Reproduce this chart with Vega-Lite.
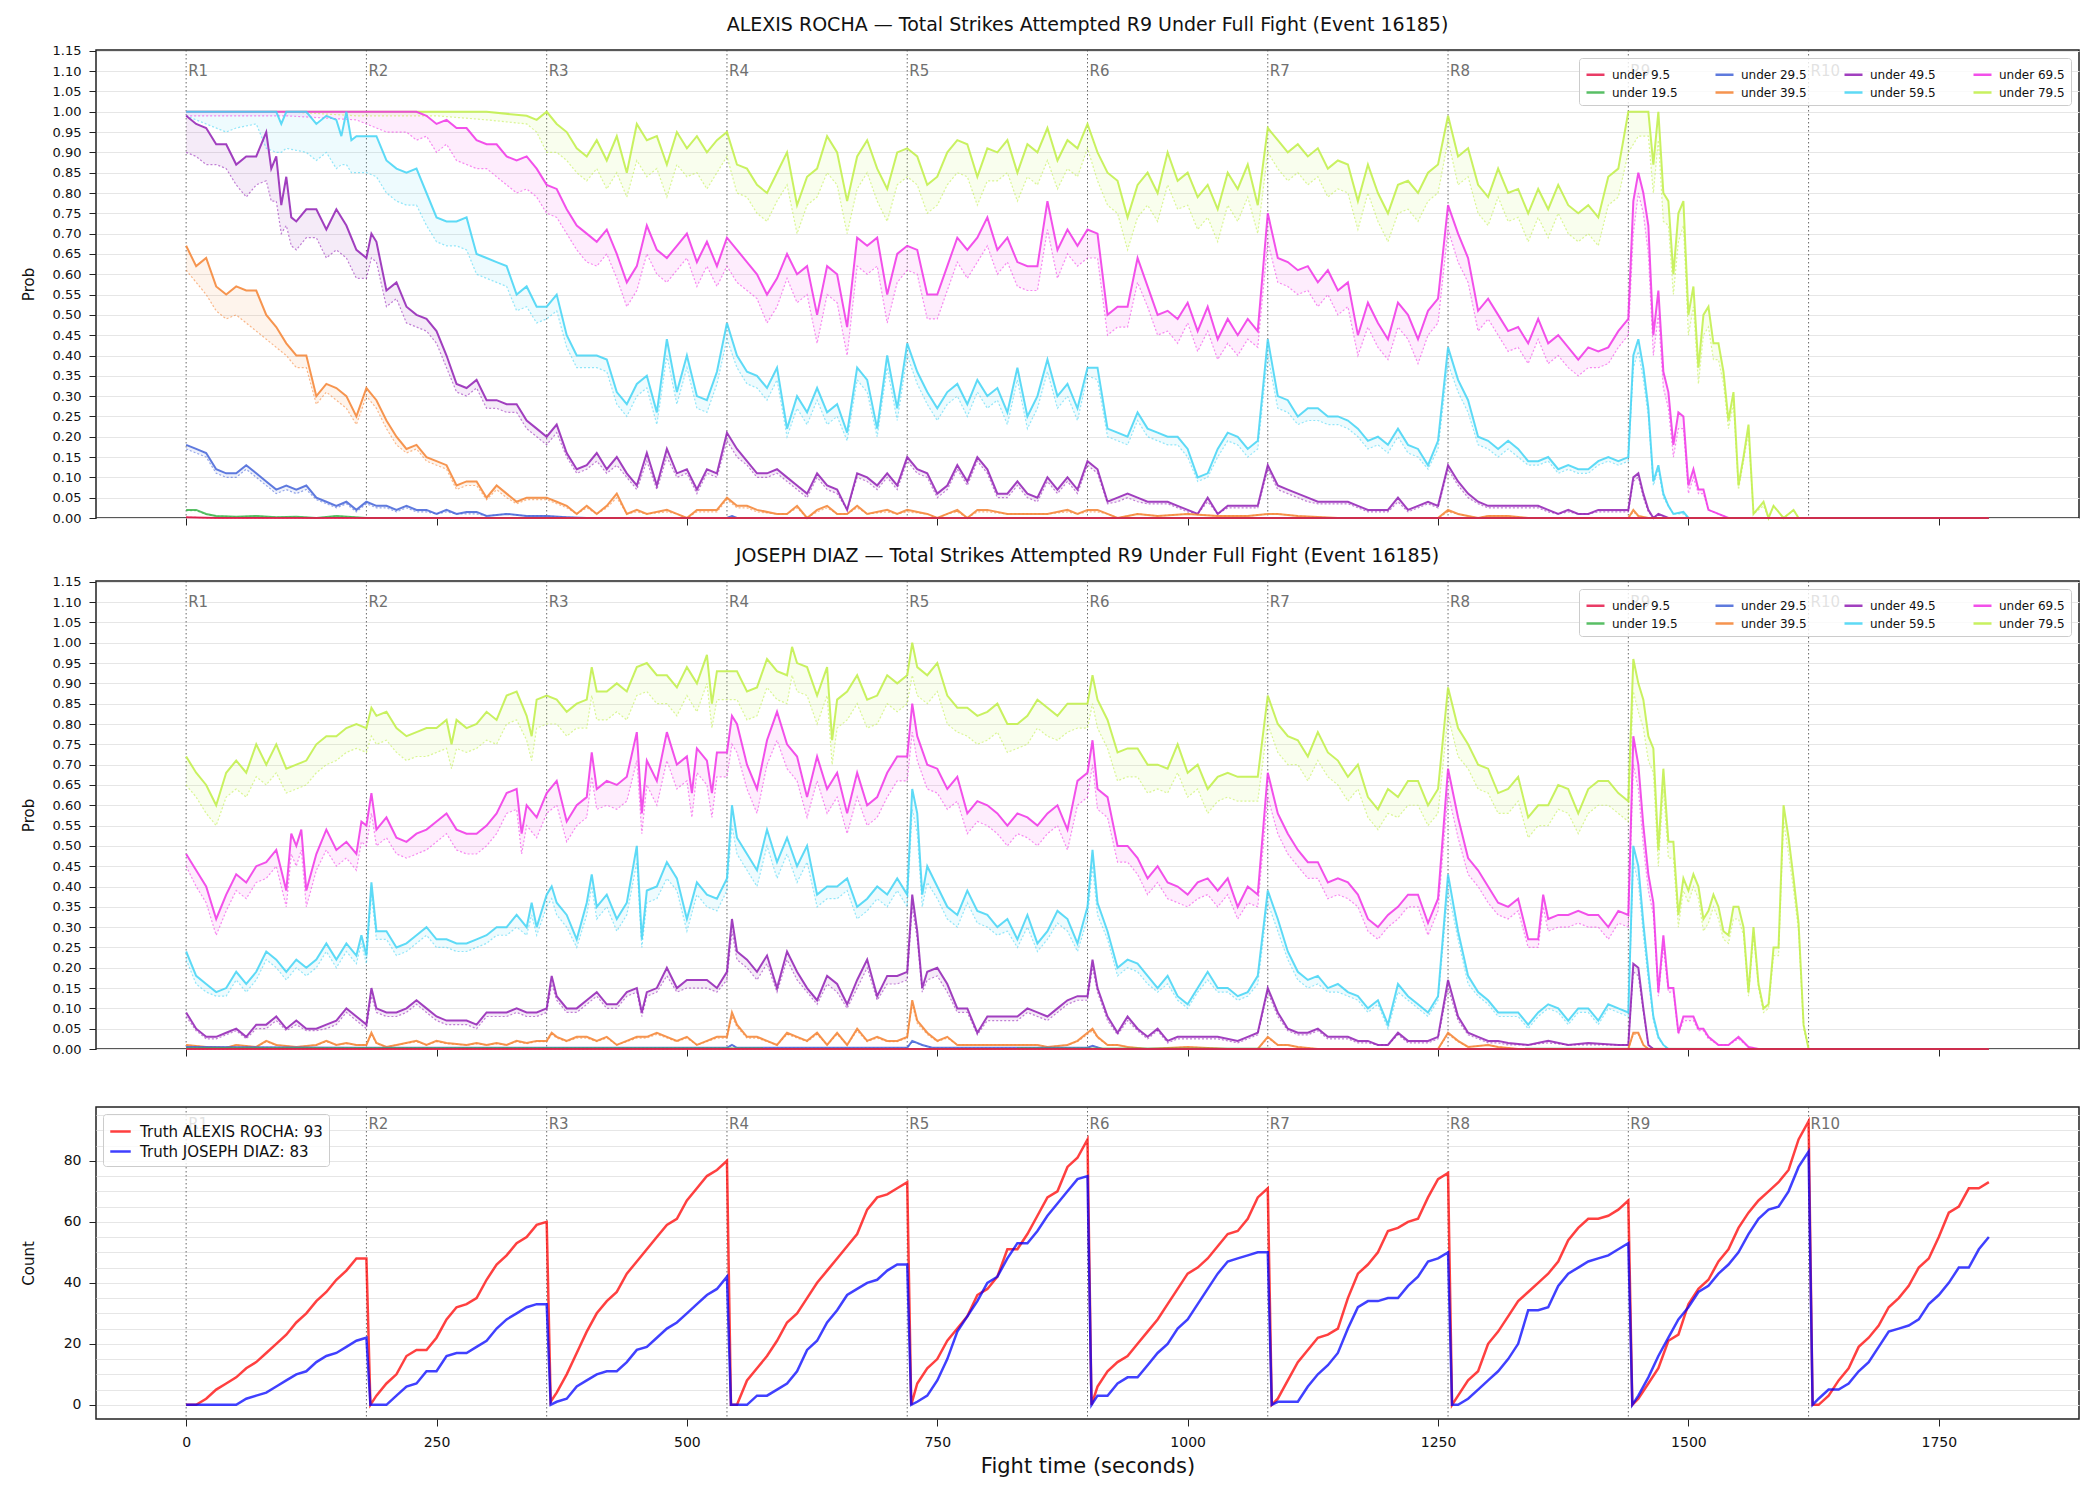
{
"$schema":"https://vega.github.io/schema/vega-lite/v6.json",
"background":"white",
"padding":{"left":20,"top":15,"right":10,"bottom":10},
"config":{
"font":"DejaVu Sans",
"view":{"stroke":"#222","strokeWidth":1.5},
"axis":{"domain":false,"labelColor":"#111","titleColor":"#111","titleFontWeight":"normal","tickColor":"#222","gridColor":"#e6e6e6","labelFont":"DejaVu Sans","titleFont":"DejaVu Sans","labelOverlap":false,"labelBound":false},
"title":{"fontSize":19,"fontWeight":"normal","color":"#111","offset":10,"font":"DejaVu Sans"},
"legend":{"labelFont":"DejaVu Sans"}
},
"datasets":{
"R":[{"t":0,"r":"R1"},{"t":180,"r":"R2"},{"t":360,"r":"R3"},{"t":540,"r":"R4"},{"t":720,"r":"R5"},{"t":900,"r":"R6"},{"t":1080,"r":"R7"},{"t":1260,"r":"R8"},{"t":1440,"r":"R9"},{"t":1620,"r":"R10"}],
"A":[
{"s":79.5,"t":0,"p":100,"l":100},{"s":79.5,"t":100,"p":100,"l":100},{"s":79.5,"t":170,"p":100,"l":99},{"s":79.5,"t":250,"p":100,"l":99},{"s":79.5,"t":300,"p":100,"l":98},{"s":79.5,"t":340,"p":99,"l":97},{"s":79.5,"t":350,"p":98,"l":95},{"s":79.5,"t":360,"p":100,"l":90},
{"s":79.5,"t":370,"p":97,"l":90},{"s":79.5,"t":380,"p":95,"l":88},{"s":79.5,"t":390,"p":91,"l":85},{"s":79.5,"t":400,"p":89,"l":83},{"s":79.5,"t":410,"p":93,"l":86},{"s":79.5,"t":420,"p":88,"l":81},{"s":79.5,"t":430,"p":94,"l":85},{"s":79.5,"t":440,"p":85,"l":79},{"s":79.5,"t":450,"p":97,"l":88},{"s":79.5,"t":460,"p":93,"l":84},{"s":79.5,"t":470,"p":94,"l":86},{"s":79.5,"t":480,"p":87,"l":79},{"s":79.5,"t":490,"p":95,"l":87},{"s":79.5,"t":500,"p":91,"l":84},{"s":79.5,"t":510,"p":94,"l":85},{"s":79.5,"t":520,"p":90,"l":81},{"s":79.5,"t":530,"p":93,"l":85},
{"s":79.5,"t":540,"p":95,"l":89},{"s":79.5,"t":550,"p":87,"l":80},{"s":79.5,"t":560,"p":86,"l":79},{"s":79.5,"t":570,"p":82,"l":75},{"s":79.5,"t":580,"p":80,"l":73},{"s":79.5,"t":590,"p":85,"l":78},{"s":79.5,"t":600,"p":90,"l":82},{"s":79.5,"t":610,"p":77,"l":70},{"s":79.5,"t":620,"p":84,"l":77},{"s":79.5,"t":630,"p":86,"l":79},{"s":79.5,"t":640,"p":94,"l":85},{"s":79.5,"t":650,"p":90,"l":82},{"s":79.5,"t":660,"p":78,"l":70},{"s":79.5,"t":670,"p":89,"l":81},{"s":79.5,"t":680,"p":93,"l":85},{"s":79.5,"t":690,"p":86,"l":78},{"s":79.5,"t":700,"p":81,"l":73},{"s":79.5,"t":710,"p":90,"l":82},
{"s":79.5,"t":720,"p":91,"l":84},{"s":79.5,"t":730,"p":89,"l":82},{"s":79.5,"t":740,"p":82,"l":75},{"s":79.5,"t":750,"p":84,"l":77},{"s":79.5,"t":760,"p":90,"l":82},{"s":79.5,"t":770,"p":93,"l":85},{"s":79.5,"t":780,"p":92,"l":84},{"s":79.5,"t":790,"p":84,"l":77},{"s":79.5,"t":800,"p":91,"l":83},{"s":79.5,"t":810,"p":90,"l":83},{"s":79.5,"t":820,"p":93,"l":85},{"s":79.5,"t":830,"p":85,"l":78},{"s":79.5,"t":840,"p":92,"l":84},{"s":79.5,"t":850,"p":90,"l":82},{"s":79.5,"t":860,"p":96,"l":88},{"s":79.5,"t":870,"p":88,"l":81},{"s":79.5,"t":880,"p":93,"l":86},{"s":79.5,"t":890,"p":91,"l":84},
{"s":79.5,"t":900,"p":97,"l":91},{"s":79.5,"t":910,"p":90,"l":83},{"s":79.5,"t":920,"p":85,"l":77},{"s":79.5,"t":930,"p":83,"l":75},{"s":79.5,"t":940,"p":74,"l":66},{"s":79.5,"t":950,"p":82,"l":74},{"s":79.5,"t":960,"p":85,"l":77},{"s":79.5,"t":970,"p":80,"l":73},{"s":79.5,"t":980,"p":90,"l":82},{"s":79.5,"t":990,"p":83,"l":76},{"s":79.5,"t":1000,"p":85,"l":77},{"s":79.5,"t":1010,"p":79,"l":71},{"s":79.5,"t":1020,"p":82,"l":74},{"s":79.5,"t":1030,"p":76,"l":68},{"s":79.5,"t":1040,"p":85,"l":77},{"s":79.5,"t":1050,"p":81,"l":73},{"s":79.5,"t":1060,"p":87,"l":79},{"s":79.5,"t":1070,"p":77,"l":70},
{"s":79.5,"t":1080,"p":96,"l":90},{"s":79.5,"t":1090,"p":93,"l":86},{"s":79.5,"t":1100,"p":90,"l":83},{"s":79.5,"t":1110,"p":92,"l":85},{"s":79.5,"t":1120,"p":89,"l":82},{"s":79.5,"t":1130,"p":91,"l":84},{"s":79.5,"t":1140,"p":86,"l":79},{"s":79.5,"t":1150,"p":88,"l":81},{"s":79.5,"t":1160,"p":87,"l":80},{"s":79.5,"t":1170,"p":78,"l":71},{"s":79.5,"t":1180,"p":87,"l":80},{"s":79.5,"t":1190,"p":80,"l":73},{"s":79.5,"t":1200,"p":75,"l":68},{"s":79.5,"t":1210,"p":82,"l":75},{"s":79.5,"t":1220,"p":83,"l":76},{"s":79.5,"t":1230,"p":80,"l":73},{"s":79.5,"t":1240,"p":85,"l":78},{"s":79.5,"t":1250,"p":87,"l":80},
{"s":79.5,"t":1260,"p":99,"l":93},{"s":79.5,"t":1270,"p":89,"l":82},{"s":79.5,"t":1280,"p":91,"l":84},{"s":79.5,"t":1290,"p":82,"l":75},{"s":79.5,"t":1300,"p":79,"l":72},{"s":79.5,"t":1310,"p":86,"l":79},{"s":79.5,"t":1320,"p":80,"l":73},{"s":79.5,"t":1330,"p":81,"l":74},{"s":79.5,"t":1340,"p":75,"l":68},{"s":79.5,"t":1350,"p":81,"l":74},{"s":79.5,"t":1360,"p":76,"l":69},{"s":79.5,"t":1370,"p":82,"l":75},{"s":79.5,"t":1380,"p":77,"l":70},{"s":79.5,"t":1390,"p":75,"l":68},{"s":79.5,"t":1400,"p":77,"l":70},{"s":79.5,"t":1410,"p":74,"l":67},{"s":79.5,"t":1420,"p":84,"l":77},{"s":79.5,"t":1430,"p":86,"l":79},
{"s":79.5,"t":1440,"p":100,"l":90},{"s":79.5,"t":1450,"p":100,"l":94},{"s":79.5,"t":1460,"p":100,"l":94},{"s":79.5,"t":1465,"p":87,"l":80},{"s":79.5,"t":1470,"p":100,"l":93},{"s":79.5,"t":1475,"p":80,"l":73},{"s":79.5,"t":1480,"p":78,"l":72},{"s":79.5,"t":1485,"p":60,"l":55},{"s":79.5,"t":1490,"p":75,"l":68},{"s":79.5,"t":1495,"p":78,"l":72},{"s":79.5,"t":1500,"p":50,"l":45},{"s":79.5,"t":1505,"p":57,"l":52},{"s":79.5,"t":1510,"p":37,"l":33},{"s":79.5,"t":1515,"p":50,"l":45},{"s":79.5,"t":1520,"p":52,"l":47},{"s":79.5,"t":1525,"p":43,"l":39},{"s":79.5,"t":1530,"p":43,"l":39},{"s":79.5,"t":1535,"p":36,"l":33},{"s":79.5,"t":1540,"p":24,"l":22},{"s":79.5,"t":1545,"p":31,"l":28},{"s":79.5,"t":1550,"p":8,"l":7},{"s":79.5,"t":1555,"p":15,"l":14},{"s":79.5,"t":1560,"p":23,"l":21},{"s":79.5,"t":1565,"p":1,"l":1},{"s":79.5,"t":1575,"p":4,"l":3},{"s":79.5,"t":1580,"p":0,"l":0},{"s":79.5,"t":1585,"p":3,"l":3},{"s":79.5,"t":1595,"p":0,"l":0},{"s":79.5,"t":1605,"p":2,"l":2},{"s":79.5,"t":1610,"p":0,"l":0},{"s":79.5,"t":1800,"p":0,"l":0},
{"s":69.5,"t":0,"p":100,"l":99},{"s":69.5,"t":100,"p":100,"l":99},{"s":69.5,"t":170,"p":100,"l":98},{"s":69.5,"t":180,"p":100,"l":97},{"s":69.5,"t":200,"p":100,"l":95},{"s":69.5,"t":220,"p":100,"l":95},{"s":69.5,"t":230,"p":100,"l":93},{"s":69.5,"t":240,"p":99,"l":94},{"s":69.5,"t":250,"p":97,"l":90},{"s":69.5,"t":260,"p":98,"l":92},{"s":69.5,"t":270,"p":96,"l":88},{"s":69.5,"t":280,"p":96,"l":87},{"s":69.5,"t":290,"p":93,"l":86},{"s":69.5,"t":300,"p":92,"l":86},{"s":69.5,"t":310,"p":92,"l":84},{"s":69.5,"t":320,"p":89,"l":82},{"s":69.5,"t":330,"p":88,"l":80},{"s":69.5,"t":340,"p":89,"l":81},{"s":69.5,"t":350,"p":86,"l":79},
{"s":69.5,"t":360,"p":82,"l":75},{"s":69.5,"t":370,"p":81,"l":74},{"s":69.5,"t":380,"p":76,"l":70},{"s":69.5,"t":390,"p":72,"l":66},{"s":69.5,"t":400,"p":70,"l":63},{"s":69.5,"t":410,"p":68,"l":62},{"s":69.5,"t":420,"p":71,"l":65},{"s":69.5,"t":430,"p":65,"l":59},{"s":69.5,"t":440,"p":58,"l":52},{"s":69.5,"t":450,"p":62,"l":56},{"s":69.5,"t":460,"p":72,"l":65},{"s":69.5,"t":470,"p":66,"l":60},{"s":69.5,"t":480,"p":64,"l":58},{"s":69.5,"t":490,"p":67,"l":61},{"s":69.5,"t":500,"p":70,"l":64},{"s":69.5,"t":510,"p":63,"l":57},{"s":69.5,"t":520,"p":68,"l":62},{"s":69.5,"t":530,"p":62,"l":57},
{"s":69.5,"t":540,"p":69,"l":62},{"s":69.5,"t":550,"p":66,"l":58},{"s":69.5,"t":560,"p":63,"l":56},{"s":69.5,"t":570,"p":60,"l":54},{"s":69.5,"t":580,"p":55,"l":48},{"s":69.5,"t":590,"p":59,"l":52},{"s":69.5,"t":600,"p":65,"l":59},{"s":69.5,"t":610,"p":60,"l":53},{"s":69.5,"t":620,"p":62,"l":55},{"s":69.5,"t":630,"p":50,"l":43},{"s":69.5,"t":640,"p":62,"l":55},{"s":69.5,"t":650,"p":60,"l":53},{"s":69.5,"t":660,"p":47,"l":40},{"s":69.5,"t":670,"p":69,"l":62},{"s":69.5,"t":680,"p":67,"l":60},{"s":69.5,"t":690,"p":69,"l":62},{"s":69.5,"t":700,"p":55,"l":48},{"s":69.5,"t":710,"p":65,"l":58},
{"s":69.5,"t":720,"p":67,"l":61},{"s":69.5,"t":730,"p":66,"l":60},{"s":69.5,"t":740,"p":55,"l":49},{"s":69.5,"t":750,"p":55,"l":49},{"s":69.5,"t":760,"p":62,"l":56},{"s":69.5,"t":770,"p":69,"l":63},{"s":69.5,"t":780,"p":66,"l":59},{"s":69.5,"t":790,"p":69,"l":63},{"s":69.5,"t":800,"p":74,"l":67},{"s":69.5,"t":810,"p":66,"l":60},{"s":69.5,"t":820,"p":69,"l":63},{"s":69.5,"t":830,"p":63,"l":57},{"s":69.5,"t":840,"p":62,"l":56},{"s":69.5,"t":850,"p":62,"l":56},{"s":69.5,"t":860,"p":78,"l":71},{"s":69.5,"t":870,"p":66,"l":59},{"s":69.5,"t":880,"p":71,"l":65},{"s":69.5,"t":890,"p":67,"l":62},
{"s":69.5,"t":900,"p":71,"l":64},{"s":69.5,"t":910,"p":70,"l":64},{"s":69.5,"t":920,"p":50,"l":45},{"s":69.5,"t":930,"p":52,"l":47},{"s":69.5,"t":940,"p":52,"l":47},{"s":69.5,"t":950,"p":64,"l":58},{"s":69.5,"t":960,"p":57,"l":52},{"s":69.5,"t":970,"p":50,"l":45},{"s":69.5,"t":980,"p":51,"l":46},{"s":69.5,"t":990,"p":49,"l":43},{"s":69.5,"t":1000,"p":53,"l":48},{"s":69.5,"t":1010,"p":46,"l":41},{"s":69.5,"t":1020,"p":52,"l":46},{"s":69.5,"t":1030,"p":44,"l":39},{"s":69.5,"t":1040,"p":49,"l":43},{"s":69.5,"t":1050,"p":45,"l":40},{"s":69.5,"t":1060,"p":49,"l":44},{"s":69.5,"t":1070,"p":46,"l":42},
{"s":69.5,"t":1080,"p":75,"l":68},{"s":69.5,"t":1090,"p":64,"l":58},{"s":69.5,"t":1100,"p":63,"l":57},{"s":69.5,"t":1110,"p":61,"l":55},{"s":69.5,"t":1120,"p":62,"l":56},{"s":69.5,"t":1130,"p":58,"l":52},{"s":69.5,"t":1140,"p":61,"l":55},{"s":69.5,"t":1150,"p":56,"l":50},{"s":69.5,"t":1160,"p":58,"l":52},{"s":69.5,"t":1170,"p":45,"l":40},{"s":69.5,"t":1180,"p":53,"l":47},{"s":69.5,"t":1190,"p":48,"l":42},{"s":69.5,"t":1200,"p":44,"l":39},{"s":69.5,"t":1210,"p":53,"l":47},{"s":69.5,"t":1220,"p":50,"l":44},{"s":69.5,"t":1230,"p":44,"l":38},{"s":69.5,"t":1240,"p":51,"l":45},{"s":69.5,"t":1250,"p":54,"l":48},
{"s":69.5,"t":1260,"p":77,"l":71},{"s":69.5,"t":1270,"p":70,"l":63},{"s":69.5,"t":1280,"p":64,"l":58},{"s":69.5,"t":1290,"p":51,"l":46},{"s":69.5,"t":1300,"p":54,"l":49},{"s":69.5,"t":1310,"p":50,"l":45},{"s":69.5,"t":1320,"p":46,"l":41},{"s":69.5,"t":1330,"p":47,"l":42},{"s":69.5,"t":1340,"p":43,"l":38},{"s":69.5,"t":1350,"p":49,"l":44},{"s":69.5,"t":1360,"p":43,"l":38},{"s":69.5,"t":1370,"p":45,"l":40},{"s":69.5,"t":1380,"p":42,"l":37},{"s":69.5,"t":1390,"p":39,"l":35},{"s":69.5,"t":1400,"p":42,"l":37},{"s":69.5,"t":1410,"p":41,"l":37},{"s":69.5,"t":1420,"p":42,"l":38},{"s":69.5,"t":1430,"p":46,"l":42},
{"s":69.5,"t":1440,"p":49,"l":45},{"s":69.5,"t":1445,"p":78,"l":70},{"s":69.5,"t":1450,"p":85,"l":80},{"s":69.5,"t":1455,"p":80,"l":75},{"s":69.5,"t":1460,"p":72,"l":65},{"s":69.5,"t":1465,"p":45,"l":40},{"s":69.5,"t":1470,"p":56,"l":50},{"s":69.5,"t":1475,"p":36,"l":32},{"s":69.5,"t":1480,"p":31,"l":27},{"s":69.5,"t":1485,"p":18,"l":15},{"s":69.5,"t":1490,"p":26,"l":22},{"s":69.5,"t":1495,"p":25,"l":22},{"s":69.5,"t":1500,"p":8,"l":6},{"s":69.5,"t":1505,"p":12,"l":10},{"s":69.5,"t":1510,"p":7,"l":6},{"s":69.5,"t":1515,"p":7,"l":6},{"s":69.5,"t":1520,"p":2,"l":2},{"s":69.5,"t":1530,"p":1,"l":1},{"s":69.5,"t":1540,"p":0,"l":0},{"s":69.5,"t":1800,"p":0,"l":0},
{"s":59.5,"t":0,"p":100,"l":99},{"s":59.5,"t":20,"p":100,"l":97},{"s":59.5,"t":40,"p":100,"l":95},{"s":59.5,"t":50,"p":100,"l":96},{"s":59.5,"t":70,"p":100,"l":97},{"s":59.5,"t":80,"p":100,"l":91},{"s":59.5,"t":90,"p":100,"l":90},{"s":59.5,"t":95,"p":97,"l":90},{"s":59.5,"t":100,"p":100,"l":91},{"s":59.5,"t":120,"p":100,"l":90},{"s":59.5,"t":130,"p":97,"l":88},{"s":59.5,"t":140,"p":99,"l":90},{"s":59.5,"t":150,"p":98,"l":86},{"s":59.5,"t":155,"p":94,"l":87},{"s":59.5,"t":160,"p":100,"l":87},{"s":59.5,"t":165,"p":93,"l":85},{"s":59.5,"t":170,"p":94,"l":85},
{"s":59.5,"t":180,"p":94,"l":85},{"s":59.5,"t":190,"p":94,"l":84},{"s":59.5,"t":200,"p":88,"l":80},{"s":59.5,"t":210,"p":86,"l":78},{"s":59.5,"t":220,"p":85,"l":77},{"s":59.5,"t":230,"p":86,"l":77},{"s":59.5,"t":240,"p":80,"l":72},{"s":59.5,"t":250,"p":74,"l":68},{"s":59.5,"t":260,"p":73,"l":67},{"s":59.5,"t":270,"p":73,"l":67},{"s":59.5,"t":280,"p":74,"l":66},{"s":59.5,"t":290,"p":65,"l":60},{"s":59.5,"t":300,"p":64,"l":59},{"s":59.5,"t":310,"p":63,"l":58},{"s":59.5,"t":320,"p":62,"l":57},{"s":59.5,"t":330,"p":55,"l":51},{"s":59.5,"t":340,"p":57,"l":52},{"s":59.5,"t":350,"p":52,"l":48},
{"s":59.5,"t":360,"p":52,"l":49},{"s":59.5,"t":370,"p":55,"l":51},{"s":59.5,"t":380,"p":45,"l":42},{"s":59.5,"t":390,"p":40,"l":37},{"s":59.5,"t":400,"p":40,"l":37},{"s":59.5,"t":410,"p":40,"l":37},{"s":59.5,"t":420,"p":39,"l":36},{"s":59.5,"t":430,"p":31,"l":28},{"s":59.5,"t":440,"p":28,"l":25},{"s":59.5,"t":450,"p":33,"l":30},{"s":59.5,"t":460,"p":35,"l":32},{"s":59.5,"t":470,"p":26,"l":23},{"s":59.5,"t":480,"p":44,"l":40},{"s":59.5,"t":490,"p":31,"l":28},{"s":59.5,"t":500,"p":40,"l":37},{"s":59.5,"t":510,"p":30,"l":27},{"s":59.5,"t":520,"p":29,"l":26},{"s":59.5,"t":530,"p":36,"l":33},
{"s":59.5,"t":540,"p":48,"l":44},{"s":59.5,"t":550,"p":40,"l":37},{"s":59.5,"t":560,"p":36,"l":33},{"s":59.5,"t":570,"p":35,"l":32},{"s":59.5,"t":580,"p":32,"l":29},{"s":59.5,"t":590,"p":37,"l":34},{"s":59.5,"t":600,"p":22,"l":20},{"s":59.5,"t":610,"p":30,"l":27},{"s":59.5,"t":620,"p":26,"l":23},{"s":59.5,"t":630,"p":32,"l":29},{"s":59.5,"t":640,"p":26,"l":23},{"s":59.5,"t":650,"p":28,"l":25},{"s":59.5,"t":660,"p":21,"l":19},{"s":59.5,"t":670,"p":37,"l":34},{"s":59.5,"t":680,"p":34,"l":31},{"s":59.5,"t":690,"p":22,"l":20},{"s":59.5,"t":700,"p":40,"l":37},{"s":59.5,"t":710,"p":27,"l":24},
{"s":59.5,"t":720,"p":43,"l":40},{"s":59.5,"t":730,"p":36,"l":33},{"s":59.5,"t":740,"p":31,"l":28},{"s":59.5,"t":750,"p":27,"l":24},{"s":59.5,"t":760,"p":31,"l":28},{"s":59.5,"t":770,"p":33,"l":30},{"s":59.5,"t":780,"p":28,"l":25},{"s":59.5,"t":790,"p":34,"l":31},{"s":59.5,"t":800,"p":30,"l":27},{"s":59.5,"t":810,"p":32,"l":29},{"s":59.5,"t":820,"p":26,"l":23},{"s":59.5,"t":830,"p":37,"l":34},{"s":59.5,"t":840,"p":25,"l":22},{"s":59.5,"t":850,"p":30,"l":27},{"s":59.5,"t":860,"p":39,"l":36},{"s":59.5,"t":870,"p":30,"l":27},{"s":59.5,"t":880,"p":33,"l":30},{"s":59.5,"t":890,"p":27,"l":24},
{"s":59.5,"t":900,"p":37,"l":35},{"s":59.5,"t":910,"p":37,"l":34},{"s":59.5,"t":920,"p":22,"l":20},{"s":59.5,"t":930,"p":21,"l":19},{"s":59.5,"t":940,"p":20,"l":18},{"s":59.5,"t":950,"p":26,"l":24},{"s":59.5,"t":960,"p":22,"l":20},{"s":59.5,"t":970,"p":21,"l":19},{"s":59.5,"t":980,"p":20,"l":18},{"s":59.5,"t":990,"p":20,"l":18},{"s":59.5,"t":1000,"p":17,"l":15},{"s":59.5,"t":1010,"p":10,"l":9},{"s":59.5,"t":1020,"p":11,"l":10},{"s":59.5,"t":1030,"p":17,"l":15},{"s":59.5,"t":1040,"p":21,"l":19},{"s":59.5,"t":1050,"p":20,"l":18},{"s":59.5,"t":1060,"p":17,"l":15},{"s":59.5,"t":1070,"p":19,"l":17},
{"s":59.5,"t":1080,"p":44,"l":40},{"s":59.5,"t":1090,"p":30,"l":27},{"s":59.5,"t":1100,"p":29,"l":26},{"s":59.5,"t":1110,"p":25,"l":23},{"s":59.5,"t":1120,"p":27,"l":24},{"s":59.5,"t":1130,"p":27,"l":24},{"s":59.5,"t":1140,"p":25,"l":23},{"s":59.5,"t":1150,"p":25,"l":23},{"s":59.5,"t":1160,"p":24,"l":22},{"s":59.5,"t":1170,"p":22,"l":20},{"s":59.5,"t":1180,"p":19,"l":17},{"s":59.5,"t":1190,"p":20,"l":18},{"s":59.5,"t":1200,"p":18,"l":16},{"s":59.5,"t":1210,"p":22,"l":20},{"s":59.5,"t":1220,"p":18,"l":16},{"s":59.5,"t":1230,"p":17,"l":15},{"s":59.5,"t":1240,"p":13,"l":12},{"s":59.5,"t":1250,"p":19,"l":17},
{"s":59.5,"t":1260,"p":42,"l":38},{"s":59.5,"t":1270,"p":34,"l":31},{"s":59.5,"t":1280,"p":29,"l":26},{"s":59.5,"t":1290,"p":20,"l":18},{"s":59.5,"t":1300,"p":19,"l":17},{"s":59.5,"t":1310,"p":17,"l":15},{"s":59.5,"t":1320,"p":19,"l":17},{"s":59.5,"t":1330,"p":17,"l":15},{"s":59.5,"t":1340,"p":14,"l":13},{"s":59.5,"t":1350,"p":14,"l":13},{"s":59.5,"t":1360,"p":15,"l":14},{"s":59.5,"t":1370,"p":12,"l":11},{"s":59.5,"t":1380,"p":13,"l":12},{"s":59.5,"t":1390,"p":12,"l":11},{"s":59.5,"t":1400,"p":12,"l":11},{"s":59.5,"t":1410,"p":14,"l":13},{"s":59.5,"t":1420,"p":15,"l":14},{"s":59.5,"t":1430,"p":14,"l":13},
{"s":59.5,"t":1440,"p":15,"l":14},{"s":59.5,"t":1445,"p":40,"l":37},{"s":59.5,"t":1450,"p":44,"l":41},{"s":59.5,"t":1455,"p":37,"l":34},{"s":59.5,"t":1460,"p":27,"l":25},{"s":59.5,"t":1465,"p":9,"l":8},{"s":59.5,"t":1470,"p":13,"l":12},{"s":59.5,"t":1475,"p":6,"l":5},{"s":59.5,"t":1480,"p":3,"l":3},{"s":59.5,"t":1485,"p":1,"l":1},{"s":59.5,"t":1495,"p":1.5,"l":1},{"s":59.5,"t":1500,"p":0,"l":0},{"s":59.5,"t":1800,"p":0,"l":0},
{"s":49.5,"t":0,"p":99,"l":90},{"s":49.5,"t":10,"p":97,"l":89},{"s":49.5,"t":20,"p":96,"l":87},{"s":49.5,"t":30,"p":92,"l":87},{"s":49.5,"t":40,"p":92,"l":86},{"s":49.5,"t":50,"p":87,"l":82},{"s":49.5,"t":60,"p":89,"l":79},{"s":49.5,"t":70,"p":89,"l":82},{"s":49.5,"t":80,"p":95,"l":83},{"s":49.5,"t":85,"p":86,"l":78},{"s":49.5,"t":90,"p":89,"l":78},{"s":49.5,"t":95,"p":77,"l":70},{"s":49.5,"t":100,"p":84,"l":72},{"s":49.5,"t":105,"p":74,"l":67},{"s":49.5,"t":110,"p":73,"l":66},{"s":49.5,"t":120,"p":76,"l":69},{"s":49.5,"t":130,"p":76,"l":69},{"s":49.5,"t":140,"p":71,"l":64},{"s":49.5,"t":150,"p":76,"l":66},{"s":49.5,"t":160,"p":72,"l":64},{"s":49.5,"t":170,"p":66,"l":59},
{"s":49.5,"t":180,"p":64,"l":59},{"s":49.5,"t":185,"p":70,"l":64},{"s":49.5,"t":190,"p":68,"l":63},{"s":49.5,"t":200,"p":56,"l":52},{"s":49.5,"t":210,"p":58,"l":54},{"s":49.5,"t":220,"p":52,"l":48},{"s":49.5,"t":230,"p":50,"l":47},{"s":49.5,"t":240,"p":49,"l":46},{"s":49.5,"t":250,"p":46,"l":43},{"s":49.5,"t":260,"p":40,"l":37},{"s":49.5,"t":270,"p":33,"l":31},{"s":49.5,"t":280,"p":32,"l":30},{"s":49.5,"t":290,"p":34,"l":32},{"s":49.5,"t":300,"p":29,"l":27},{"s":49.5,"t":310,"p":29,"l":27},{"s":49.5,"t":320,"p":28,"l":26},{"s":49.5,"t":330,"p":28,"l":26},{"s":49.5,"t":340,"p":24,"l":22},{"s":49.5,"t":350,"p":22,"l":20},
{"s":49.5,"t":360,"p":20,"l":18},{"s":49.5,"t":370,"p":23,"l":21},{"s":49.5,"t":380,"p":16,"l":15},{"s":49.5,"t":390,"p":12,"l":11},{"s":49.5,"t":400,"p":13,"l":12},{"s":49.5,"t":410,"p":16,"l":14},{"s":49.5,"t":420,"p":12,"l":11},{"s":49.5,"t":430,"p":15,"l":13},{"s":49.5,"t":440,"p":11,"l":10},{"s":49.5,"t":450,"p":8,"l":7},{"s":49.5,"t":460,"p":16,"l":14},{"s":49.5,"t":470,"p":8,"l":7},{"s":49.5,"t":480,"p":17,"l":15},{"s":49.5,"t":490,"p":11,"l":10},{"s":49.5,"t":500,"p":12,"l":11},{"s":49.5,"t":510,"p":7,"l":6},{"s":49.5,"t":520,"p":12,"l":11},{"s":49.5,"t":530,"p":11,"l":10},
{"s":49.5,"t":540,"p":21,"l":19},{"s":49.5,"t":550,"p":17,"l":15},{"s":49.5,"t":560,"p":14,"l":13},{"s":49.5,"t":570,"p":11,"l":10},{"s":49.5,"t":580,"p":11,"l":10},{"s":49.5,"t":590,"p":12,"l":11},{"s":49.5,"t":600,"p":10,"l":9},{"s":49.5,"t":610,"p":8,"l":7},{"s":49.5,"t":620,"p":6,"l":5},{"s":49.5,"t":630,"p":11,"l":10},{"s":49.5,"t":640,"p":8,"l":7},{"s":49.5,"t":650,"p":7,"l":6},{"s":49.5,"t":660,"p":2,"l":2},{"s":49.5,"t":670,"p":11,"l":10},{"s":49.5,"t":680,"p":10,"l":9},{"s":49.5,"t":690,"p":8,"l":7},{"s":49.5,"t":700,"p":11,"l":10},{"s":49.5,"t":710,"p":8,"l":7},
{"s":49.5,"t":720,"p":15,"l":14},{"s":49.5,"t":730,"p":12,"l":11},{"s":49.5,"t":740,"p":11,"l":10},{"s":49.5,"t":750,"p":6,"l":5},{"s":49.5,"t":760,"p":8,"l":7},{"s":49.5,"t":770,"p":13,"l":12},{"s":49.5,"t":780,"p":9,"l":8},{"s":49.5,"t":790,"p":15,"l":14},{"s":49.5,"t":800,"p":12,"l":11},{"s":49.5,"t":810,"p":6,"l":5},{"s":49.5,"t":820,"p":6,"l":5},{"s":49.5,"t":830,"p":9,"l":8},{"s":49.5,"t":840,"p":6,"l":5},{"s":49.5,"t":850,"p":5,"l":4},{"s":49.5,"t":860,"p":10,"l":9},{"s":49.5,"t":870,"p":7,"l":6},{"s":49.5,"t":880,"p":10,"l":9},{"s":49.5,"t":890,"p":7,"l":6},
{"s":49.5,"t":900,"p":14,"l":13},{"s":49.5,"t":910,"p":12,"l":11},{"s":49.5,"t":920,"p":4,"l":3.5},{"s":49.5,"t":930,"p":5,"l":4},{"s":49.5,"t":940,"p":6,"l":5},{"s":49.5,"t":950,"p":5,"l":4},{"s":49.5,"t":960,"p":4,"l":3.5},{"s":49.5,"t":970,"p":4,"l":3.5},{"s":49.5,"t":980,"p":4,"l":3.5},{"s":49.5,"t":990,"p":3,"l":2.5},{"s":49.5,"t":1000,"p":2,"l":1.5},{"s":49.5,"t":1010,"p":1,"l":1},{"s":49.5,"t":1020,"p":5,"l":4},{"s":49.5,"t":1030,"p":1,"l":1},{"s":49.5,"t":1040,"p":3,"l":2.5},{"s":49.5,"t":1050,"p":3,"l":2.5},{"s":49.5,"t":1060,"p":3,"l":2.5},{"s":49.5,"t":1070,"p":3,"l":2.5},
{"s":49.5,"t":1080,"p":13,"l":12},{"s":49.5,"t":1090,"p":8,"l":7},{"s":49.5,"t":1100,"p":7,"l":6},{"s":49.5,"t":1110,"p":6,"l":5},{"s":49.5,"t":1120,"p":5,"l":4},{"s":49.5,"t":1130,"p":4,"l":3.5},{"s":49.5,"t":1140,"p":4,"l":3.5},{"s":49.5,"t":1150,"p":4,"l":3.5},{"s":49.5,"t":1160,"p":4,"l":3.5},{"s":49.5,"t":1170,"p":3,"l":2.5},{"s":49.5,"t":1180,"p":2,"l":1.5},{"s":49.5,"t":1190,"p":2,"l":1.5},{"s":49.5,"t":1200,"p":2,"l":1.5},{"s":49.5,"t":1210,"p":5,"l":4},{"s":49.5,"t":1220,"p":2,"l":1.5},{"s":49.5,"t":1230,"p":3,"l":2.5},{"s":49.5,"t":1240,"p":4,"l":3.5},{"s":49.5,"t":1250,"p":3,"l":2.5},
{"s":49.5,"t":1260,"p":13,"l":12},{"s":49.5,"t":1270,"p":9,"l":8},{"s":49.5,"t":1280,"p":6,"l":5},{"s":49.5,"t":1290,"p":4,"l":3.5},{"s":49.5,"t":1300,"p":3,"l":2.5},{"s":49.5,"t":1320,"p":3,"l":2.5},{"s":49.5,"t":1340,"p":3,"l":2.5},{"s":49.5,"t":1350,"p":3,"l":2.5},{"s":49.5,"t":1360,"p":2,"l":1.5},{"s":49.5,"t":1370,"p":1,"l":1},{"s":49.5,"t":1380,"p":2,"l":1.5},{"s":49.5,"t":1390,"p":1,"l":1},{"s":49.5,"t":1400,"p":1,"l":1},{"s":49.5,"t":1410,"p":2,"l":1.5},{"s":49.5,"t":1430,"p":2,"l":1.5},
{"s":49.5,"t":1440,"p":2,"l":1.5},{"s":49.5,"t":1445,"p":10,"l":9},{"s":49.5,"t":1450,"p":11,"l":10},{"s":49.5,"t":1455,"p":6,"l":5},{"s":49.5,"t":1460,"p":2,"l":1.5},{"s":49.5,"t":1465,"p":0,"l":0},{"s":49.5,"t":1470,"p":1,"l":1},{"s":49.5,"t":1480,"p":0,"l":0},{"s":49.5,"t":1800,"p":0,"l":0},
{"s":39.5,"t":0,"p":67,"l":61},{"s":39.5,"t":10,"p":62,"l":58},{"s":39.5,"t":20,"p":64,"l":55},{"s":39.5,"t":30,"p":57,"l":51},{"s":39.5,"t":40,"p":55,"l":49},{"s":39.5,"t":50,"p":57,"l":50},{"s":39.5,"t":60,"p":56,"l":48},{"s":39.5,"t":70,"p":56,"l":46},{"s":39.5,"t":80,"p":50,"l":44},{"s":39.5,"t":90,"p":47,"l":42},{"s":39.5,"t":100,"p":43,"l":40},{"s":39.5,"t":110,"p":40,"l":37},{"s":39.5,"t":120,"p":40,"l":37},{"s":39.5,"t":130,"p":30,"l":28},{"s":39.5,"t":140,"p":33,"l":31},{"s":39.5,"t":150,"p":32,"l":29},{"s":39.5,"t":160,"p":30,"l":27},{"s":39.5,"t":170,"p":25,"l":23},
{"s":39.5,"t":180,"p":32,"l":30},{"s":39.5,"t":190,"p":29,"l":27},{"s":39.5,"t":200,"p":24,"l":22},{"s":39.5,"t":210,"p":20,"l":18},{"s":39.5,"t":220,"p":17,"l":16},{"s":39.5,"t":230,"p":18,"l":17},{"s":39.5,"t":240,"p":15,"l":14},{"s":39.5,"t":250,"p":14,"l":13},{"s":39.5,"t":260,"p":13,"l":12},{"s":39.5,"t":270,"p":8,"l":7},{"s":39.5,"t":280,"p":9,"l":8},{"s":39.5,"t":290,"p":9,"l":8},{"s":39.5,"t":300,"p":5,"l":4.5},{"s":39.5,"t":310,"p":8,"l":7},{"s":39.5,"t":320,"p":6,"l":5},{"s":39.5,"t":330,"p":4,"l":3.5},{"s":39.5,"t":340,"p":5,"l":4.5},{"s":39.5,"t":350,"p":5,"l":4.5},
{"s":39.5,"t":360,"p":5,"l":4.5},{"s":39.5,"t":370,"p":4,"l":3.5},{"s":39.5,"t":380,"p":3,"l":2.5},{"s":39.5,"t":390,"p":1,"l":1},{"s":39.5,"t":400,"p":3,"l":2.5},{"s":39.5,"t":410,"p":1,"l":1},{"s":39.5,"t":420,"p":3,"l":2.5},{"s":39.5,"t":430,"p":6,"l":5},{"s":39.5,"t":440,"p":1,"l":1},{"s":39.5,"t":450,"p":2,"l":1.5},{"s":39.5,"t":460,"p":1,"l":1},{"s":39.5,"t":480,"p":2,"l":1.5},{"s":39.5,"t":490,"p":1,"l":1},{"s":39.5,"t":500,"p":0,"l":0},{"s":39.5,"t":510,"p":2,"l":1.5},{"s":39.5,"t":530,"p":2,"l":1.5},
{"s":39.5,"t":540,"p":5,"l":4.5},{"s":39.5,"t":550,"p":3,"l":2.5},{"s":39.5,"t":560,"p":3,"l":2.5},{"s":39.5,"t":570,"p":2,"l":1.5},{"s":39.5,"t":590,"p":1,"l":1},{"s":39.5,"t":600,"p":1,"l":1},{"s":39.5,"t":610,"p":3,"l":2.5},{"s":39.5,"t":620,"p":0,"l":0},{"s":39.5,"t":630,"p":2,"l":1.5},{"s":39.5,"t":640,"p":3,"l":2.5},{"s":39.5,"t":650,"p":1,"l":1},{"s":39.5,"t":660,"p":1,"l":1},{"s":39.5,"t":670,"p":3,"l":2.5},{"s":39.5,"t":680,"p":1,"l":1},{"s":39.5,"t":700,"p":2,"l":1.5},{"s":39.5,"t":710,"p":1,"l":1},
{"s":39.5,"t":720,"p":2,"l":1.5},{"s":39.5,"t":740,"p":1,"l":1},{"s":39.5,"t":750,"p":0,"l":0},{"s":39.5,"t":760,"p":1,"l":1},{"s":39.5,"t":770,"p":2,"l":1.5},{"s":39.5,"t":780,"p":0,"l":0},{"s":39.5,"t":790,"p":2,"l":1.5},{"s":39.5,"t":800,"p":2,"l":1.5},{"s":39.5,"t":820,"p":1,"l":1},{"s":39.5,"t":860,"p":1,"l":1},{"s":39.5,"t":880,"p":2,"l":1.5},{"s":39.5,"t":890,"p":1,"l":1},
{"s":39.5,"t":900,"p":2,"l":1.5},{"s":39.5,"t":910,"p":2,"l":1.5},{"s":39.5,"t":920,"p":1,"l":1},{"s":39.5,"t":930,"p":0,"l":0},{"s":39.5,"t":950,"p":1,"l":1},{"s":39.5,"t":970,"p":0.5,"l":0.5},{"s":39.5,"t":1000,"p":1,"l":1},{"s":39.5,"t":1030,"p":0.5,"l":0.5},{"s":39.5,"t":1060,"p":0.5,"l":0.5},{"s":39.5,"t":1080,"p":1,"l":1},{"s":39.5,"t":1090,"p":1,"l":1},{"s":39.5,"t":1110,"p":0.5,"l":0.5},{"s":39.5,"t":1150,"p":0,"l":0},{"s":39.5,"t":1250,"p":0,"l":0},{"s":39.5,"t":1260,"p":2,"l":1.5},{"s":39.5,"t":1270,"p":1,"l":1},{"s":39.5,"t":1280,"p":0.5,"l":0.5},{"s":39.5,"t":1290,"p":0,"l":0},{"s":39.5,"t":1300,"p":0.5,"l":0.5},{"s":39.5,"t":1320,"p":0.5,"l":0.5},{"s":39.5,"t":1340,"p":0,"l":0},{"s":39.5,"t":1440,"p":0,"l":0},{"s":39.5,"t":1445,"p":2,"l":1.5},{"s":39.5,"t":1450,"p":0.5,"l":0.5},{"s":39.5,"t":1460,"p":0,"l":0},{"s":39.5,"t":1800,"p":0,"l":0},
{"s":29.5,"t":0,"p":18,"l":17},{"s":29.5,"t":10,"p":17,"l":16},{"s":29.5,"t":20,"p":16,"l":15},{"s":29.5,"t":30,"p":12,"l":11},{"s":29.5,"t":40,"p":11,"l":10},{"s":29.5,"t":50,"p":11,"l":10},{"s":29.5,"t":60,"p":13,"l":12},{"s":29.5,"t":70,"p":11,"l":10},{"s":29.5,"t":80,"p":9,"l":8},{"s":29.5,"t":90,"p":7,"l":6},{"s":29.5,"t":100,"p":8,"l":7},{"s":29.5,"t":110,"p":7,"l":6},{"s":29.5,"t":120,"p":8,"l":7},{"s":29.5,"t":130,"p":5,"l":4.5},{"s":29.5,"t":140,"p":4,"l":3.5},{"s":29.5,"t":150,"p":3,"l":2.5},{"s":29.5,"t":160,"p":4,"l":3.5},{"s":29.5,"t":170,"p":2,"l":1.5},{"s":29.5,"t":180,"p":4,"l":3.5},{"s":29.5,"t":190,"p":3,"l":2.5},{"s":29.5,"t":200,"p":3,"l":2.5},{"s":29.5,"t":210,"p":2,"l":1.5},{"s":29.5,"t":220,"p":3,"l":2.5},{"s":29.5,"t":230,"p":2,"l":1.5},{"s":29.5,"t":240,"p":2,"l":1.5},{"s":29.5,"t":250,"p":1,"l":1},{"s":29.5,"t":260,"p":2,"l":1.5},{"s":29.5,"t":270,"p":1,"l":1},{"s":29.5,"t":280,"p":1.5,"l":1},{"s":29.5,"t":290,"p":1.5,"l":1},{"s":29.5,"t":300,"p":0.5,"l":0.5},{"s":29.5,"t":320,"p":1,"l":1},{"s":29.5,"t":340,"p":0.5,"l":0.5},{"s":29.5,"t":360,"p":0.5,"l":0.5},{"s":29.5,"t":380,"p":0.2,"l":0.2},{"s":29.5,"t":400,"p":0,"l":0},{"s":29.5,"t":540,"p":0,"l":0},{"s":29.5,"t":545,"p":0.5,"l":0.5},{"s":29.5,"t":550,"p":0,"l":0},{"s":29.5,"t":1800,"p":0,"l":0},
{"s":19.5,"t":0,"p":2,"l":1.8},{"s":19.5,"t":10,"p":2,"l":1.8},{"s":19.5,"t":20,"p":1,"l":0.9},{"s":19.5,"t":30,"p":0.5,"l":0.5},{"s":19.5,"t":50,"p":0.3,"l":0.3},{"s":19.5,"t":70,"p":0.5,"l":0.5},{"s":19.5,"t":90,"p":0.2,"l":0.2},{"s":19.5,"t":110,"p":0.3,"l":0.3},{"s":19.5,"t":130,"p":0,"l":0},{"s":19.5,"t":150,"p":0.5,"l":0.5},{"s":19.5,"t":180,"p":0,"l":0},{"s":19.5,"t":1800,"p":0,"l":0},
{"s":9.5,"t":0,"p":0.2,"l":0.2},{"s":9.5,"t":30,"p":0,"l":0},{"s":9.5,"t":1800,"p":0,"l":0}
],
"B":[
{"s":79.5,"t":0,"p":72,"l":65},{"s":79.5,"t":10,"p":68,"l":62},{"s":79.5,"t":20,"p":65,"l":58},{"s":79.5,"t":30,"p":60,"l":55},{"s":79.5,"t":40,"p":68,"l":62},{"s":79.5,"t":50,"p":71,"l":64},{"s":79.5,"t":60,"p":68,"l":62},{"s":79.5,"t":70,"p":75,"l":67},{"s":79.5,"t":80,"p":70,"l":65},{"s":79.5,"t":90,"p":75,"l":68},{"s":79.5,"t":100,"p":69,"l":63},{"s":79.5,"t":110,"p":70,"l":64},{"s":79.5,"t":120,"p":71,"l":65},{"s":79.5,"t":130,"p":75,"l":68},{"s":79.5,"t":140,"p":77,"l":70},{"s":79.5,"t":150,"p":77,"l":71},{"s":79.5,"t":160,"p":79,"l":73},{"s":79.5,"t":170,"p":80,"l":74},
{"s":79.5,"t":180,"p":79,"l":73},{"s":79.5,"t":185,"p":84,"l":77},{"s":79.5,"t":190,"p":82,"l":75},{"s":79.5,"t":200,"p":83,"l":76},{"s":79.5,"t":210,"p":79,"l":73},{"s":79.5,"t":220,"p":77,"l":71},{"s":79.5,"t":230,"p":78,"l":72},{"s":79.5,"t":240,"p":79,"l":72},{"s":79.5,"t":250,"p":79,"l":73},{"s":79.5,"t":260,"p":81,"l":74},{"s":79.5,"t":265,"p":75,"l":69},{"s":79.5,"t":270,"p":81,"l":74},{"s":79.5,"t":280,"p":79,"l":73},{"s":79.5,"t":290,"p":80,"l":74},{"s":79.5,"t":300,"p":83,"l":76},{"s":79.5,"t":310,"p":81,"l":75},{"s":79.5,"t":320,"p":87,"l":80},{"s":79.5,"t":330,"p":88,"l":81},{"s":79.5,"t":340,"p":82,"l":76},{"s":79.5,"t":345,"p":77,"l":71},{"s":79.5,"t":350,"p":86,"l":79},
{"s":79.5,"t":360,"p":87,"l":80},{"s":79.5,"t":370,"p":86,"l":80},{"s":79.5,"t":380,"p":83,"l":77},{"s":79.5,"t":390,"p":85,"l":79},{"s":79.5,"t":400,"p":86,"l":79},{"s":79.5,"t":405,"p":94,"l":87},{"s":79.5,"t":410,"p":88,"l":81},{"s":79.5,"t":420,"p":88,"l":81},{"s":79.5,"t":430,"p":90,"l":83},{"s":79.5,"t":440,"p":88,"l":81},{"s":79.5,"t":450,"p":94,"l":87},{"s":79.5,"t":460,"p":95,"l":88},{"s":79.5,"t":470,"p":92,"l":85},{"s":79.5,"t":480,"p":92,"l":85},{"s":79.5,"t":490,"p":89,"l":82},{"s":79.5,"t":500,"p":94,"l":87},{"s":79.5,"t":510,"p":90,"l":83},{"s":79.5,"t":520,"p":97,"l":90},{"s":79.5,"t":525,"p":85,"l":79},{"s":79.5,"t":530,"p":93,"l":86},
{"s":79.5,"t":540,"p":93,"l":86},{"s":79.5,"t":550,"p":93,"l":86},{"s":79.5,"t":560,"p":88,"l":81},{"s":79.5,"t":570,"p":89,"l":82},{"s":79.5,"t":580,"p":96,"l":89},{"s":79.5,"t":590,"p":93,"l":86},{"s":79.5,"t":600,"p":92,"l":85},{"s":79.5,"t":605,"p":99,"l":92},{"s":79.5,"t":610,"p":95,"l":88},{"s":79.5,"t":620,"p":94,"l":87},{"s":79.5,"t":630,"p":87,"l":80},{"s":79.5,"t":640,"p":94,"l":87},{"s":79.5,"t":645,"p":76,"l":70},{"s":79.5,"t":650,"p":86,"l":79},{"s":79.5,"t":660,"p":88,"l":81},{"s":79.5,"t":670,"p":92,"l":85},{"s":79.5,"t":680,"p":86,"l":79},{"s":79.5,"t":690,"p":87,"l":80},{"s":79.5,"t":700,"p":92,"l":85},{"s":79.5,"t":710,"p":90,"l":83},
{"s":79.5,"t":720,"p":92,"l":85},{"s":79.5,"t":725,"p":100,"l":92},{"s":79.5,"t":730,"p":94,"l":87},{"s":79.5,"t":740,"p":92,"l":85},{"s":79.5,"t":750,"p":95,"l":88},{"s":79.5,"t":760,"p":87,"l":80},{"s":79.5,"t":770,"p":84,"l":78},{"s":79.5,"t":780,"p":84,"l":77},{"s":79.5,"t":790,"p":82,"l":75},{"s":79.5,"t":800,"p":83,"l":76},{"s":79.5,"t":810,"p":85,"l":78},{"s":79.5,"t":820,"p":80,"l":73},{"s":79.5,"t":830,"p":80,"l":74},{"s":79.5,"t":840,"p":82,"l":75},{"s":79.5,"t":850,"p":86,"l":79},{"s":79.5,"t":860,"p":84,"l":77},{"s":79.5,"t":870,"p":82,"l":76},{"s":79.5,"t":880,"p":85,"l":78},{"s":79.5,"t":890,"p":85,"l":79},
{"s":79.5,"t":900,"p":85,"l":79},{"s":79.5,"t":905,"p":92,"l":85},{"s":79.5,"t":910,"p":86,"l":79},{"s":79.5,"t":920,"p":81,"l":74},{"s":79.5,"t":930,"p":73,"l":66},{"s":79.5,"t":940,"p":74,"l":67},{"s":79.5,"t":950,"p":74,"l":67},{"s":79.5,"t":960,"p":70,"l":63},{"s":79.5,"t":970,"p":70,"l":64},{"s":79.5,"t":980,"p":69,"l":63},{"s":79.5,"t":990,"p":75,"l":68},{"s":79.5,"t":1000,"p":68,"l":62},{"s":79.5,"t":1010,"p":70,"l":64},{"s":79.5,"t":1020,"p":64,"l":58},{"s":79.5,"t":1030,"p":67,"l":61},{"s":79.5,"t":1040,"p":68,"l":62},{"s":79.5,"t":1050,"p":67,"l":61},{"s":79.5,"t":1060,"p":67,"l":61},{"s":79.5,"t":1070,"p":67,"l":61},
{"s":79.5,"t":1080,"p":87,"l":80},{"s":79.5,"t":1090,"p":80,"l":73},{"s":79.5,"t":1100,"p":77,"l":70},{"s":79.5,"t":1110,"p":76,"l":70},{"s":79.5,"t":1120,"p":72,"l":66},{"s":79.5,"t":1130,"p":78,"l":71},{"s":79.5,"t":1140,"p":73,"l":67},{"s":79.5,"t":1150,"p":71,"l":65},{"s":79.5,"t":1160,"p":67,"l":61},{"s":79.5,"t":1170,"p":70,"l":64},{"s":79.5,"t":1180,"p":62,"l":57},{"s":79.5,"t":1190,"p":59,"l":54},{"s":79.5,"t":1200,"p":64,"l":58},{"s":79.5,"t":1210,"p":62,"l":57},{"s":79.5,"t":1220,"p":66,"l":60},{"s":79.5,"t":1230,"p":66,"l":60},{"s":79.5,"t":1240,"p":60,"l":55},{"s":79.5,"t":1250,"p":64,"l":58},
{"s":79.5,"t":1260,"p":89,"l":82},{"s":79.5,"t":1270,"p":79,"l":72},{"s":79.5,"t":1280,"p":75,"l":69},{"s":79.5,"t":1290,"p":70,"l":64},{"s":79.5,"t":1300,"p":69,"l":63},{"s":79.5,"t":1310,"p":63,"l":58},{"s":79.5,"t":1320,"p":64,"l":58},{"s":79.5,"t":1330,"p":67,"l":61},{"s":79.5,"t":1340,"p":57,"l":52},{"s":79.5,"t":1350,"p":60,"l":55},{"s":79.5,"t":1360,"p":60,"l":55},{"s":79.5,"t":1370,"p":65,"l":59},{"s":79.5,"t":1380,"p":64,"l":58},{"s":79.5,"t":1390,"p":58,"l":53},{"s":79.5,"t":1400,"p":64,"l":58},{"s":79.5,"t":1410,"p":66,"l":60},{"s":79.5,"t":1420,"p":66,"l":60},{"s":79.5,"t":1430,"p":63,"l":58},
{"s":79.5,"t":1440,"p":61,"l":56},{"s":79.5,"t":1445,"p":96,"l":88},{"s":79.5,"t":1450,"p":90,"l":83},{"s":79.5,"t":1455,"p":86,"l":79},{"s":79.5,"t":1460,"p":77,"l":71},{"s":79.5,"t":1465,"p":74,"l":68},{"s":79.5,"t":1470,"p":49,"l":45},{"s":79.5,"t":1475,"p":69,"l":64},{"s":79.5,"t":1480,"p":51,"l":47},{"s":79.5,"t":1485,"p":51,"l":47},{"s":79.5,"t":1490,"p":33,"l":30},{"s":79.5,"t":1495,"p":42,"l":39},{"s":79.5,"t":1500,"p":39,"l":36},{"s":79.5,"t":1505,"p":43,"l":40},{"s":79.5,"t":1510,"p":40,"l":37},{"s":79.5,"t":1515,"p":32,"l":29},{"s":79.5,"t":1520,"p":34,"l":31},{"s":79.5,"t":1525,"p":38,"l":35},{"s":79.5,"t":1530,"p":35,"l":32},{"s":79.5,"t":1535,"p":29,"l":27},{"s":79.5,"t":1540,"p":28,"l":26},{"s":79.5,"t":1545,"p":35,"l":32},{"s":79.5,"t":1550,"p":35,"l":32},{"s":79.5,"t":1555,"p":30,"l":28},{"s":79.5,"t":1560,"p":14,"l":13},{"s":79.5,"t":1565,"p":30,"l":28},{"s":79.5,"t":1570,"p":16,"l":15},{"s":79.5,"t":1575,"p":10,"l":9},{"s":79.5,"t":1580,"p":11,"l":10},{"s":79.5,"t":1585,"p":25,"l":23},{"s":79.5,"t":1590,"p":25,"l":23},{"s":79.5,"t":1595,"p":60,"l":56},{"s":79.5,"t":1600,"p":52,"l":48},{"s":79.5,"t":1605,"p":42,"l":39},{"s":79.5,"t":1610,"p":31,"l":29},{"s":79.5,"t":1615,"p":6,"l":5},{"s":79.5,"t":1620,"p":0,"l":0},{"s":79.5,"t":1800,"p":0,"l":0},
{"s":69.5,"t":0,"p":48,"l":45},{"s":69.5,"t":10,"p":44,"l":40},{"s":69.5,"t":20,"p":40,"l":36},{"s":69.5,"t":30,"p":32,"l":28},{"s":69.5,"t":40,"p":38,"l":34},{"s":69.5,"t":50,"p":43,"l":39},{"s":69.5,"t":60,"p":41,"l":37},{"s":69.5,"t":70,"p":45,"l":41},{"s":69.5,"t":80,"p":46,"l":42},{"s":69.5,"t":90,"p":49,"l":45},{"s":69.5,"t":100,"p":39,"l":35},{"s":69.5,"t":105,"p":53,"l":48},{"s":69.5,"t":110,"p":50,"l":45},{"s":69.5,"t":115,"p":54,"l":49},{"s":69.5,"t":120,"p":39,"l":35},{"s":69.5,"t":130,"p":48,"l":44},{"s":69.5,"t":140,"p":54,"l":49},{"s":69.5,"t":150,"p":49,"l":45},{"s":69.5,"t":160,"p":51,"l":47},{"s":69.5,"t":170,"p":48,"l":44},{"s":69.5,"t":175,"p":56,"l":51},
{"s":69.5,"t":180,"p":55,"l":50},{"s":69.5,"t":185,"p":63,"l":58},{"s":69.5,"t":190,"p":54,"l":50},{"s":69.5,"t":200,"p":57,"l":52},{"s":69.5,"t":210,"p":52,"l":48},{"s":69.5,"t":220,"p":51,"l":47},{"s":69.5,"t":230,"p":53,"l":48},{"s":69.5,"t":240,"p":54,"l":49},{"s":69.5,"t":250,"p":56,"l":51},{"s":69.5,"t":260,"p":58,"l":53},{"s":69.5,"t":270,"p":54,"l":49},{"s":69.5,"t":280,"p":53,"l":48},{"s":69.5,"t":290,"p":53,"l":48},{"s":69.5,"t":300,"p":55,"l":50},{"s":69.5,"t":310,"p":58,"l":53},{"s":69.5,"t":320,"p":63,"l":58},{"s":69.5,"t":330,"p":64,"l":59},{"s":69.5,"t":335,"p":53,"l":48},{"s":69.5,"t":340,"p":60,"l":55},{"s":69.5,"t":350,"p":57,"l":52},
{"s":69.5,"t":360,"p":63,"l":58},{"s":69.5,"t":370,"p":66,"l":60},{"s":69.5,"t":380,"p":56,"l":51},{"s":69.5,"t":390,"p":60,"l":55},{"s":69.5,"t":400,"p":62,"l":57},{"s":69.5,"t":405,"p":73,"l":67},{"s":69.5,"t":410,"p":64,"l":59},{"s":69.5,"t":420,"p":66,"l":60},{"s":69.5,"t":430,"p":65,"l":59},{"s":69.5,"t":440,"p":67,"l":61},{"s":69.5,"t":450,"p":78,"l":71},{"s":69.5,"t":455,"p":58,"l":53},{"s":69.5,"t":460,"p":71,"l":65},{"s":69.5,"t":470,"p":66,"l":60},{"s":69.5,"t":480,"p":78,"l":71},{"s":69.5,"t":490,"p":70,"l":64},{"s":69.5,"t":500,"p":72,"l":66},{"s":69.5,"t":505,"p":63,"l":57},{"s":69.5,"t":510,"p":74,"l":68},{"s":69.5,"t":520,"p":71,"l":65},{"s":69.5,"t":525,"p":63,"l":57},{"s":69.5,"t":530,"p":73,"l":67},
{"s":69.5,"t":540,"p":73,"l":67},{"s":69.5,"t":545,"p":82,"l":75},{"s":69.5,"t":550,"p":80,"l":73},{"s":69.5,"t":560,"p":70,"l":64},{"s":69.5,"t":570,"p":64,"l":58},{"s":69.5,"t":580,"p":76,"l":70},{"s":69.5,"t":590,"p":83,"l":76},{"s":69.5,"t":600,"p":75,"l":69},{"s":69.5,"t":610,"p":72,"l":66},{"s":69.5,"t":620,"p":62,"l":57},{"s":69.5,"t":630,"p":72,"l":66},{"s":69.5,"t":640,"p":64,"l":58},{"s":69.5,"t":650,"p":68,"l":62},{"s":69.5,"t":660,"p":58,"l":53},{"s":69.5,"t":670,"p":68,"l":62},{"s":69.5,"t":680,"p":60,"l":55},{"s":69.5,"t":690,"p":62,"l":57},{"s":69.5,"t":700,"p":68,"l":62},{"s":69.5,"t":710,"p":72,"l":66},
{"s":69.5,"t":720,"p":72,"l":66},{"s":69.5,"t":725,"p":85,"l":78},{"s":69.5,"t":730,"p":77,"l":71},{"s":69.5,"t":740,"p":70,"l":64},{"s":69.5,"t":750,"p":69,"l":63},{"s":69.5,"t":760,"p":64,"l":59},{"s":69.5,"t":770,"p":67,"l":61},{"s":69.5,"t":780,"p":58,"l":53},{"s":69.5,"t":790,"p":61,"l":56},{"s":69.5,"t":800,"p":60,"l":55},{"s":69.5,"t":810,"p":58,"l":53},{"s":69.5,"t":820,"p":55,"l":50},{"s":69.5,"t":830,"p":58,"l":53},{"s":69.5,"t":840,"p":57,"l":52},{"s":69.5,"t":850,"p":55,"l":50},{"s":69.5,"t":860,"p":58,"l":53},{"s":69.5,"t":870,"p":60,"l":55},{"s":69.5,"t":880,"p":54,"l":49},{"s":69.5,"t":890,"p":66,"l":60},
{"s":69.5,"t":900,"p":68,"l":62},{"s":69.5,"t":905,"p":76,"l":70},{"s":69.5,"t":910,"p":64,"l":59},{"s":69.5,"t":920,"p":62,"l":57},{"s":69.5,"t":930,"p":50,"l":46},{"s":69.5,"t":940,"p":50,"l":46},{"s":69.5,"t":950,"p":47,"l":43},{"s":69.5,"t":960,"p":42,"l":38},{"s":69.5,"t":970,"p":45,"l":41},{"s":69.5,"t":980,"p":41,"l":37},{"s":69.5,"t":990,"p":40,"l":36},{"s":69.5,"t":1000,"p":38,"l":35},{"s":69.5,"t":1010,"p":41,"l":37},{"s":69.5,"t":1020,"p":42,"l":38},{"s":69.5,"t":1030,"p":39,"l":35},{"s":69.5,"t":1040,"p":42,"l":38},{"s":69.5,"t":1050,"p":35,"l":32},{"s":69.5,"t":1060,"p":40,"l":36},{"s":69.5,"t":1070,"p":38,"l":35},
{"s":69.5,"t":1080,"p":68,"l":62},{"s":69.5,"t":1090,"p":58,"l":53},{"s":69.5,"t":1100,"p":53,"l":48},{"s":69.5,"t":1110,"p":49,"l":45},{"s":69.5,"t":1120,"p":46,"l":42},{"s":69.5,"t":1130,"p":46,"l":42},{"s":69.5,"t":1140,"p":41,"l":37},{"s":69.5,"t":1150,"p":42,"l":38},{"s":69.5,"t":1160,"p":41,"l":37},{"s":69.5,"t":1170,"p":38,"l":35},{"s":69.5,"t":1180,"p":32,"l":29},{"s":69.5,"t":1190,"p":30,"l":27},{"s":69.5,"t":1200,"p":33,"l":30},{"s":69.5,"t":1210,"p":35,"l":32},{"s":69.5,"t":1220,"p":38,"l":35},{"s":69.5,"t":1230,"p":38,"l":35},{"s":69.5,"t":1240,"p":31,"l":28},{"s":69.5,"t":1250,"p":37,"l":34},
{"s":69.5,"t":1260,"p":69,"l":63},{"s":69.5,"t":1270,"p":57,"l":52},{"s":69.5,"t":1280,"p":47,"l":43},{"s":69.5,"t":1290,"p":44,"l":40},{"s":69.5,"t":1300,"p":40,"l":36},{"s":69.5,"t":1310,"p":36,"l":33},{"s":69.5,"t":1320,"p":35,"l":32},{"s":69.5,"t":1330,"p":37,"l":34},{"s":69.5,"t":1340,"p":27,"l":25},{"s":69.5,"t":1350,"p":27,"l":25},{"s":69.5,"t":1355,"p":38,"l":35},{"s":69.5,"t":1360,"p":32,"l":29},{"s":69.5,"t":1370,"p":33,"l":30},{"s":69.5,"t":1380,"p":33,"l":30},{"s":69.5,"t":1390,"p":34,"l":31},{"s":69.5,"t":1400,"p":33,"l":30},{"s":69.5,"t":1410,"p":33,"l":30},{"s":69.5,"t":1420,"p":30,"l":27},{"s":69.5,"t":1430,"p":34,"l":31},
{"s":69.5,"t":1440,"p":33,"l":30},{"s":69.5,"t":1445,"p":77,"l":70},{"s":69.5,"t":1450,"p":70,"l":64},{"s":69.5,"t":1455,"p":55,"l":50},{"s":69.5,"t":1460,"p":43,"l":39},{"s":69.5,"t":1465,"p":36,"l":33},{"s":69.5,"t":1470,"p":14,"l":13},{"s":69.5,"t":1475,"p":28,"l":25},{"s":69.5,"t":1480,"p":15,"l":14},{"s":69.5,"t":1485,"p":15,"l":14},{"s":69.5,"t":1490,"p":4,"l":3.5},{"s":69.5,"t":1495,"p":8,"l":7},{"s":69.5,"t":1505,"p":8,"l":7},{"s":69.5,"t":1510,"p":5,"l":4.5},{"s":69.5,"t":1515,"p":5,"l":4.5},{"s":69.5,"t":1520,"p":3,"l":2.5},{"s":69.5,"t":1530,"p":1,"l":1},{"s":69.5,"t":1540,"p":1,"l":1},{"s":69.5,"t":1550,"p":3,"l":2.5},{"s":69.5,"t":1560,"p":0.5,"l":0.5},{"s":69.5,"t":1570,"p":0,"l":0},{"s":69.5,"t":1800,"p":0,"l":0},
{"s":59.5,"t":0,"p":24,"l":22},{"s":59.5,"t":10,"p":18,"l":16},{"s":59.5,"t":20,"p":16,"l":14},{"s":59.5,"t":30,"p":14,"l":13},{"s":59.5,"t":40,"p":15,"l":13},{"s":59.5,"t":50,"p":19,"l":17},{"s":59.5,"t":60,"p":16,"l":14},{"s":59.5,"t":70,"p":19,"l":17},{"s":59.5,"t":80,"p":24,"l":22},{"s":59.5,"t":90,"p":22,"l":20},{"s":59.5,"t":100,"p":19,"l":17},{"s":59.5,"t":110,"p":22,"l":20},{"s":59.5,"t":120,"p":20,"l":18},{"s":59.5,"t":130,"p":22,"l":20},{"s":59.5,"t":140,"p":26,"l":24},{"s":59.5,"t":150,"p":22,"l":20},{"s":59.5,"t":160,"p":26,"l":24},{"s":59.5,"t":170,"p":23,"l":21},{"s":59.5,"t":175,"p":28,"l":26},
{"s":59.5,"t":180,"p":23,"l":21},{"s":59.5,"t":185,"p":41,"l":38},{"s":59.5,"t":190,"p":29,"l":27},{"s":59.5,"t":200,"p":29,"l":27},{"s":59.5,"t":210,"p":25,"l":23},{"s":59.5,"t":220,"p":26,"l":24},{"s":59.5,"t":230,"p":28,"l":26},{"s":59.5,"t":240,"p":30,"l":28},{"s":59.5,"t":250,"p":27,"l":25},{"s":59.5,"t":260,"p":27,"l":25},{"s":59.5,"t":270,"p":26,"l":24},{"s":59.5,"t":280,"p":26,"l":24},{"s":59.5,"t":290,"p":27,"l":25},{"s":59.5,"t":300,"p":28,"l":26},{"s":59.5,"t":310,"p":30,"l":28},{"s":59.5,"t":320,"p":30,"l":28},{"s":59.5,"t":330,"p":33,"l":30},{"s":59.5,"t":340,"p":30,"l":28},{"s":59.5,"t":345,"p":36,"l":33},{"s":59.5,"t":350,"p":30,"l":28},
{"s":59.5,"t":360,"p":38,"l":35},{"s":59.5,"t":365,"p":40,"l":37},{"s":59.5,"t":370,"p":36,"l":33},{"s":59.5,"t":380,"p":33,"l":30},{"s":59.5,"t":390,"p":27,"l":25},{"s":59.5,"t":400,"p":36,"l":33},{"s":59.5,"t":405,"p":43,"l":40},{"s":59.5,"t":410,"p":35,"l":32},{"s":59.5,"t":420,"p":38,"l":35},{"s":59.5,"t":430,"p":32,"l":29},{"s":59.5,"t":440,"p":36,"l":33},{"s":59.5,"t":450,"p":50,"l":46},{"s":59.5,"t":455,"p":27,"l":25},{"s":59.5,"t":460,"p":39,"l":36},{"s":59.5,"t":470,"p":40,"l":37},{"s":59.5,"t":480,"p":46,"l":42},{"s":59.5,"t":490,"p":42,"l":39},{"s":59.5,"t":500,"p":32,"l":29},{"s":59.5,"t":510,"p":41,"l":38},{"s":59.5,"t":520,"p":38,"l":35},{"s":59.5,"t":530,"p":37,"l":34},
{"s":59.5,"t":540,"p":42,"l":39},{"s":59.5,"t":545,"p":60,"l":55},{"s":59.5,"t":550,"p":52,"l":48},{"s":59.5,"t":560,"p":48,"l":44},{"s":59.5,"t":570,"p":44,"l":40},{"s":59.5,"t":580,"p":54,"l":50},{"s":59.5,"t":590,"p":46,"l":42},{"s":59.5,"t":600,"p":52,"l":48},{"s":59.5,"t":610,"p":45,"l":41},{"s":59.5,"t":620,"p":50,"l":46},{"s":59.5,"t":630,"p":38,"l":35},{"s":59.5,"t":640,"p":40,"l":37},{"s":59.5,"t":650,"p":40,"l":37},{"s":59.5,"t":660,"p":42,"l":39},{"s":59.5,"t":670,"p":35,"l":32},{"s":59.5,"t":680,"p":37,"l":34},{"s":59.5,"t":690,"p":40,"l":37},{"s":59.5,"t":700,"p":38,"l":35},{"s":59.5,"t":710,"p":42,"l":39},
{"s":59.5,"t":720,"p":38,"l":35},{"s":59.5,"t":725,"p":64,"l":59},{"s":59.5,"t":730,"p":58,"l":53},{"s":59.5,"t":735,"p":38,"l":35},{"s":59.5,"t":740,"p":45,"l":41},{"s":59.5,"t":750,"p":40,"l":37},{"s":59.5,"t":760,"p":35,"l":32},{"s":59.5,"t":770,"p":33,"l":30},{"s":59.5,"t":780,"p":39,"l":36},{"s":59.5,"t":790,"p":34,"l":31},{"s":59.5,"t":800,"p":33,"l":30},{"s":59.5,"t":810,"p":30,"l":28},{"s":59.5,"t":820,"p":32,"l":29},{"s":59.5,"t":830,"p":27,"l":25},{"s":59.5,"t":840,"p":33,"l":30},{"s":59.5,"t":850,"p":26,"l":24},{"s":59.5,"t":860,"p":29,"l":27},{"s":59.5,"t":870,"p":34,"l":31},{"s":59.5,"t":880,"p":32,"l":29},{"s":59.5,"t":890,"p":26,"l":24},
{"s":59.5,"t":900,"p":35,"l":32},{"s":59.5,"t":905,"p":49,"l":45},{"s":59.5,"t":910,"p":36,"l":33},{"s":59.5,"t":920,"p":29,"l":27},{"s":59.5,"t":930,"p":20,"l":18},{"s":59.5,"t":940,"p":22,"l":20},{"s":59.5,"t":950,"p":21,"l":19},{"s":59.5,"t":960,"p":18,"l":16},{"s":59.5,"t":970,"p":15,"l":14},{"s":59.5,"t":980,"p":18,"l":16},{"s":59.5,"t":990,"p":13,"l":12},{"s":59.5,"t":1000,"p":11,"l":10},{"s":59.5,"t":1010,"p":15,"l":14},{"s":59.5,"t":1020,"p":19,"l":17},{"s":59.5,"t":1030,"p":15,"l":14},{"s":59.5,"t":1040,"p":15,"l":14},{"s":59.5,"t":1050,"p":13,"l":12},{"s":59.5,"t":1060,"p":14,"l":13},{"s":59.5,"t":1070,"p":18,"l":16},
{"s":59.5,"t":1080,"p":39,"l":36},{"s":59.5,"t":1090,"p":32,"l":29},{"s":59.5,"t":1100,"p":24,"l":22},{"s":59.5,"t":1110,"p":19,"l":17},{"s":59.5,"t":1120,"p":17,"l":15},{"s":59.5,"t":1130,"p":18,"l":16},{"s":59.5,"t":1140,"p":15,"l":14},{"s":59.5,"t":1150,"p":16,"l":14},{"s":59.5,"t":1160,"p":14,"l":13},{"s":59.5,"t":1170,"p":13,"l":12},{"s":59.5,"t":1180,"p":10,"l":9},{"s":59.5,"t":1190,"p":12,"l":11},{"s":59.5,"t":1200,"p":6,"l":5},{"s":59.5,"t":1210,"p":16,"l":14},{"s":59.5,"t":1220,"p":13,"l":12},{"s":59.5,"t":1230,"p":11,"l":10},{"s":59.5,"t":1240,"p":9,"l":8},{"s":59.5,"t":1250,"p":13,"l":12},
{"s":59.5,"t":1260,"p":43,"l":39},{"s":59.5,"t":1270,"p":29,"l":27},{"s":59.5,"t":1280,"p":18,"l":16},{"s":59.5,"t":1290,"p":14,"l":13},{"s":59.5,"t":1300,"p":12,"l":11},{"s":59.5,"t":1310,"p":9,"l":8},{"s":59.5,"t":1320,"p":9,"l":8},{"s":59.5,"t":1330,"p":9,"l":8},{"s":59.5,"t":1340,"p":6,"l":5},{"s":59.5,"t":1350,"p":9,"l":8},{"s":59.5,"t":1360,"p":11,"l":10},{"s":59.5,"t":1370,"p":10,"l":9},{"s":59.5,"t":1380,"p":7,"l":6},{"s":59.5,"t":1390,"p":10,"l":9},{"s":59.5,"t":1400,"p":10,"l":9},{"s":59.5,"t":1410,"p":7,"l":6},{"s":59.5,"t":1420,"p":11,"l":10},{"s":59.5,"t":1430,"p":10,"l":9},
{"s":59.5,"t":1440,"p":9,"l":8},{"s":59.5,"t":1445,"p":50,"l":46},{"s":59.5,"t":1450,"p":45,"l":41},{"s":59.5,"t":1455,"p":31,"l":28},{"s":59.5,"t":1460,"p":19,"l":17},{"s":59.5,"t":1465,"p":8,"l":7},{"s":59.5,"t":1470,"p":3,"l":2.5},{"s":59.5,"t":1475,"p":1,"l":1},{"s":59.5,"t":1480,"p":0,"l":0},{"s":59.5,"t":1800,"p":0,"l":0},
{"s":49.5,"t":0,"p":9,"l":8},{"s":49.5,"t":10,"p":5,"l":4.5},{"s":49.5,"t":20,"p":3,"l":2.5},{"s":49.5,"t":30,"p":3,"l":2.5},{"s":49.5,"t":40,"p":4,"l":3.5},{"s":49.5,"t":50,"p":5,"l":4.5},{"s":49.5,"t":60,"p":3,"l":2.5},{"s":49.5,"t":70,"p":6,"l":5},{"s":49.5,"t":80,"p":6,"l":5},{"s":49.5,"t":90,"p":8,"l":7},{"s":49.5,"t":100,"p":5,"l":4.5},{"s":49.5,"t":110,"p":7,"l":6},{"s":49.5,"t":120,"p":5,"l":4.5},{"s":49.5,"t":130,"p":5,"l":4.5},{"s":49.5,"t":140,"p":6,"l":5},{"s":49.5,"t":150,"p":7,"l":6},{"s":49.5,"t":160,"p":10,"l":9},{"s":49.5,"t":170,"p":8,"l":7},
{"s":49.5,"t":180,"p":6,"l":5},{"s":49.5,"t":185,"p":15,"l":13},{"s":49.5,"t":190,"p":10,"l":9},{"s":49.5,"t":200,"p":9,"l":8},{"s":49.5,"t":210,"p":9,"l":8},{"s":49.5,"t":220,"p":10,"l":9},{"s":49.5,"t":230,"p":12,"l":11},{"s":49.5,"t":240,"p":10,"l":9},{"s":49.5,"t":250,"p":8,"l":7},{"s":49.5,"t":260,"p":7,"l":6},{"s":49.5,"t":270,"p":7,"l":6},{"s":49.5,"t":280,"p":7,"l":6},{"s":49.5,"t":290,"p":6,"l":5},{"s":49.5,"t":300,"p":9,"l":8},{"s":49.5,"t":310,"p":9,"l":8},{"s":49.5,"t":320,"p":9,"l":8},{"s":49.5,"t":330,"p":10,"l":9},{"s":49.5,"t":340,"p":9,"l":8},{"s":49.5,"t":350,"p":9,"l":8},
{"s":49.5,"t":360,"p":10,"l":9},{"s":49.5,"t":365,"p":18,"l":16},{"s":49.5,"t":370,"p":13,"l":12},{"s":49.5,"t":380,"p":10,"l":9},{"s":49.5,"t":390,"p":10,"l":9},{"s":49.5,"t":400,"p":12,"l":11},{"s":49.5,"t":410,"p":14,"l":13},{"s":49.5,"t":420,"p":11,"l":10},{"s":49.5,"t":430,"p":11,"l":10},{"s":49.5,"t":440,"p":14,"l":13},{"s":49.5,"t":450,"p":15,"l":14},{"s":49.5,"t":455,"p":9,"l":8},{"s":49.5,"t":460,"p":14,"l":13},{"s":49.5,"t":470,"p":15,"l":14},{"s":49.5,"t":480,"p":20,"l":18},{"s":49.5,"t":490,"p":15,"l":14},{"s":49.5,"t":500,"p":17,"l":15},{"s":49.5,"t":510,"p":17,"l":15},{"s":49.5,"t":520,"p":17,"l":15},{"s":49.5,"t":530,"p":15,"l":14},
{"s":49.5,"t":540,"p":19,"l":17},{"s":49.5,"t":545,"p":32,"l":29},{"s":49.5,"t":550,"p":24,"l":22},{"s":49.5,"t":560,"p":22,"l":20},{"s":49.5,"t":570,"p":19,"l":17},{"s":49.5,"t":580,"p":23,"l":21},{"s":49.5,"t":590,"p":15,"l":14},{"s":49.5,"t":600,"p":24,"l":22},{"s":49.5,"t":610,"p":19,"l":17},{"s":49.5,"t":620,"p":15,"l":14},{"s":49.5,"t":630,"p":12,"l":11},{"s":49.5,"t":640,"p":18,"l":16},{"s":49.5,"t":650,"p":16,"l":14},{"s":49.5,"t":660,"p":11,"l":10},{"s":49.5,"t":670,"p":17,"l":15},{"s":49.5,"t":680,"p":22,"l":20},{"s":49.5,"t":690,"p":13,"l":12},{"s":49.5,"t":700,"p":18,"l":16},{"s":49.5,"t":710,"p":18,"l":16},
{"s":49.5,"t":720,"p":19,"l":17},{"s":49.5,"t":725,"p":38,"l":35},{"s":49.5,"t":730,"p":29,"l":27},{"s":49.5,"t":735,"p":15,"l":14},{"s":49.5,"t":740,"p":19,"l":17},{"s":49.5,"t":750,"p":20,"l":18},{"s":49.5,"t":760,"p":16,"l":14},{"s":49.5,"t":770,"p":10,"l":9},{"s":49.5,"t":780,"p":10,"l":9},{"s":49.5,"t":790,"p":4,"l":3.5},{"s":49.5,"t":800,"p":8,"l":7},{"s":49.5,"t":810,"p":8,"l":7},{"s":49.5,"t":820,"p":8,"l":7},{"s":49.5,"t":830,"p":8,"l":7},{"s":49.5,"t":840,"p":10,"l":9},{"s":49.5,"t":850,"p":9,"l":8},{"s":49.5,"t":860,"p":8,"l":7},{"s":49.5,"t":870,"p":10,"l":9},{"s":49.5,"t":880,"p":12,"l":11},{"s":49.5,"t":890,"p":13,"l":12},
{"s":49.5,"t":900,"p":13,"l":12},{"s":49.5,"t":905,"p":22,"l":20},{"s":49.5,"t":910,"p":15,"l":14},{"s":49.5,"t":920,"p":8,"l":7},{"s":49.5,"t":930,"p":4,"l":3.5},{"s":49.5,"t":940,"p":8,"l":7},{"s":49.5,"t":950,"p":5,"l":4.5},{"s":49.5,"t":960,"p":3,"l":2.5},{"s":49.5,"t":970,"p":5,"l":4.5},{"s":49.5,"t":980,"p":2,"l":1.5},{"s":49.5,"t":990,"p":3,"l":2.5},{"s":49.5,"t":1010,"p":3,"l":2.5},{"s":49.5,"t":1030,"p":3,"l":2.5},{"s":49.5,"t":1050,"p":2,"l":1.5},{"s":49.5,"t":1060,"p":3,"l":2.5},{"s":49.5,"t":1070,"p":4,"l":3.5},
{"s":49.5,"t":1080,"p":15,"l":14},{"s":49.5,"t":1090,"p":9,"l":8},{"s":49.5,"t":1100,"p":5,"l":4.5},{"s":49.5,"t":1110,"p":4,"l":3.5},{"s":49.5,"t":1120,"p":4,"l":3.5},{"s":49.5,"t":1130,"p":5,"l":4.5},{"s":49.5,"t":1140,"p":3,"l":2.5},{"s":49.5,"t":1160,"p":3,"l":2.5},{"s":49.5,"t":1170,"p":2,"l":1.5},{"s":49.5,"t":1180,"p":2,"l":1.5},{"s":49.5,"t":1190,"p":1,"l":1},{"s":49.5,"t":1200,"p":1,"l":1},{"s":49.5,"t":1210,"p":4,"l":3.5},{"s":49.5,"t":1220,"p":2,"l":1.5},{"s":49.5,"t":1240,"p":2,"l":1.5},{"s":49.5,"t":1250,"p":3,"l":2.5},
{"s":49.5,"t":1260,"p":17,"l":15},{"s":49.5,"t":1270,"p":8,"l":7},{"s":49.5,"t":1280,"p":4,"l":3.5},{"s":49.5,"t":1290,"p":3,"l":2.5},{"s":49.5,"t":1300,"p":2,"l":1.5},{"s":49.5,"t":1310,"p":2,"l":1.5},{"s":49.5,"t":1320,"p":1.5,"l":1},{"s":49.5,"t":1340,"p":1,"l":1},{"s":49.5,"t":1360,"p":2,"l":1.5},{"s":49.5,"t":1380,"p":1,"l":1},{"s":49.5,"t":1400,"p":1.5,"l":1},{"s":49.5,"t":1430,"p":1,"l":1},
{"s":49.5,"t":1440,"p":1,"l":1},{"s":49.5,"t":1445,"p":21,"l":19},{"s":49.5,"t":1450,"p":20,"l":18},{"s":49.5,"t":1455,"p":10,"l":9},{"s":49.5,"t":1460,"p":1,"l":1},{"s":49.5,"t":1465,"p":0,"l":0},{"s":49.5,"t":1800,"p":0,"l":0},
{"s":39.5,"t":0,"p":1,"l":1},{"s":39.5,"t":20,"p":0.5,"l":0.5},{"s":39.5,"t":40,"p":0.3,"l":0.3},{"s":39.5,"t":50,"p":1,"l":1},{"s":39.5,"t":70,"p":0.5,"l":0.5},{"s":39.5,"t":80,"p":2,"l":1.8},{"s":39.5,"t":90,"p":1,"l":1},{"s":39.5,"t":110,"p":0.5,"l":0.5},{"s":39.5,"t":130,"p":1,"l":1},{"s":39.5,"t":140,"p":2,"l":1.8},{"s":39.5,"t":150,"p":1,"l":1},{"s":39.5,"t":160,"p":1.5,"l":1.3},{"s":39.5,"t":170,"p":1,"l":1},{"s":39.5,"t":180,"p":1,"l":1},{"s":39.5,"t":185,"p":4,"l":3.6},{"s":39.5,"t":190,"p":1.5,"l":1.3},{"s":39.5,"t":200,"p":0.5,"l":0.5},{"s":39.5,"t":210,"p":1,"l":1},{"s":39.5,"t":230,"p":2,"l":1.8},{"s":39.5,"t":240,"p":1,"l":1},{"s":39.5,"t":250,"p":2,"l":1.8},{"s":39.5,"t":260,"p":1.5,"l":1.3},{"s":39.5,"t":280,"p":1,"l":1},{"s":39.5,"t":290,"p":1.5,"l":1.3},{"s":39.5,"t":300,"p":1,"l":1},{"s":39.5,"t":310,"p":1.5,"l":1.3},{"s":39.5,"t":320,"p":1,"l":1},{"s":39.5,"t":330,"p":2,"l":1.8},{"s":39.5,"t":340,"p":1.5,"l":1.3},{"s":39.5,"t":350,"p":2,"l":1.8},
{"s":39.5,"t":360,"p":2,"l":1.8},{"s":39.5,"t":365,"p":4,"l":3.6},{"s":39.5,"t":370,"p":3,"l":2.7},{"s":39.5,"t":380,"p":2,"l":1.8},{"s":39.5,"t":390,"p":3,"l":2.7},{"s":39.5,"t":400,"p":3,"l":2.7},{"s":39.5,"t":410,"p":2,"l":1.8},{"s":39.5,"t":420,"p":3,"l":2.7},{"s":39.5,"t":430,"p":1,"l":1},{"s":39.5,"t":440,"p":2,"l":1.8},{"s":39.5,"t":450,"p":3,"l":2.7},{"s":39.5,"t":460,"p":3,"l":2.7},{"s":39.5,"t":470,"p":4,"l":3.6},{"s":39.5,"t":480,"p":3,"l":2.7},{"s":39.5,"t":490,"p":2,"l":1.8},{"s":39.5,"t":500,"p":3,"l":2.7},{"s":39.5,"t":510,"p":1,"l":1},{"s":39.5,"t":520,"p":2,"l":1.8},{"s":39.5,"t":530,"p":3,"l":2.7},
{"s":39.5,"t":540,"p":3,"l":2.7},{"s":39.5,"t":545,"p":9,"l":8},{"s":39.5,"t":550,"p":6,"l":5.4},{"s":39.5,"t":560,"p":3,"l":2.7},{"s":39.5,"t":570,"p":3,"l":2.7},{"s":39.5,"t":580,"p":2,"l":1.8},{"s":39.5,"t":590,"p":1,"l":1},{"s":39.5,"t":600,"p":4,"l":3.6},{"s":39.5,"t":610,"p":3,"l":2.7},{"s":39.5,"t":620,"p":2,"l":1.8},{"s":39.5,"t":630,"p":4,"l":3.6},{"s":39.5,"t":640,"p":1,"l":1},{"s":39.5,"t":650,"p":4,"l":3.6},{"s":39.5,"t":660,"p":1,"l":1},{"s":39.5,"t":670,"p":5,"l":4.5},{"s":39.5,"t":680,"p":2,"l":1.8},{"s":39.5,"t":690,"p":3,"l":2.7},{"s":39.5,"t":700,"p":2,"l":1.8},{"s":39.5,"t":710,"p":2,"l":1.8},
{"s":39.5,"t":720,"p":3,"l":2.7},{"s":39.5,"t":725,"p":12,"l":11},{"s":39.5,"t":730,"p":7,"l":6.3},{"s":39.5,"t":740,"p":4,"l":3.6},{"s":39.5,"t":750,"p":2,"l":1.8},{"s":39.5,"t":760,"p":3,"l":2.7},{"s":39.5,"t":770,"p":1,"l":1},{"s":39.5,"t":790,"p":1,"l":1},{"s":39.5,"t":810,"p":1,"l":1},{"s":39.5,"t":830,"p":1,"l":1},{"s":39.5,"t":850,"p":1,"l":1},{"s":39.5,"t":860,"p":0.5,"l":0.5},{"s":39.5,"t":880,"p":1,"l":1},{"s":39.5,"t":890,"p":2,"l":1.8},
{"s":39.5,"t":900,"p":4,"l":3.6},{"s":39.5,"t":905,"p":5,"l":4.5},{"s":39.5,"t":910,"p":3,"l":2.7},{"s":39.5,"t":920,"p":1,"l":1},{"s":39.5,"t":930,"p":1,"l":1},{"s":39.5,"t":940,"p":0.5,"l":0.5},{"s":39.5,"t":960,"p":0,"l":0},{"s":39.5,"t":1000,"p":0.5,"l":0.5},{"s":39.5,"t":1040,"p":0,"l":0},{"s":39.5,"t":1070,"p":0,"l":0},{"s":39.5,"t":1080,"p":3,"l":2.7},{"s":39.5,"t":1090,"p":1,"l":1},{"s":39.5,"t":1100,"p":1,"l":1},{"s":39.5,"t":1110,"p":0.5,"l":0.5},{"s":39.5,"t":1130,"p":0,"l":0},{"s":39.5,"t":1250,"p":0,"l":0},{"s":39.5,"t":1260,"p":4,"l":3.6},{"s":39.5,"t":1270,"p":2,"l":1.8},{"s":39.5,"t":1280,"p":0.5,"l":0.5},{"s":39.5,"t":1300,"p":1,"l":1},{"s":39.5,"t":1310,"p":0.5,"l":0.5},{"s":39.5,"t":1330,"p":0,"l":0},{"s":39.5,"t":1440,"p":0,"l":0},{"s":39.5,"t":1445,"p":4,"l":3.6},{"s":39.5,"t":1450,"p":4,"l":3.6},{"s":39.5,"t":1455,"p":1,"l":1},{"s":39.5,"t":1460,"p":0,"l":0},{"s":39.5,"t":1800,"p":0,"l":0},
{"s":29.5,"t":0,"p":0.5,"l":0.5},{"s":29.5,"t":170,"p":0.3,"l":0.3},{"s":29.5,"t":540,"p":0.3,"l":0.3},{"s":29.5,"t":545,"p":1,"l":1},{"s":29.5,"t":550,"p":0.3,"l":0.3},{"s":29.5,"t":720,"p":0.3,"l":0.3},{"s":29.5,"t":725,"p":2,"l":1.8},{"s":29.5,"t":735,"p":1,"l":1},{"s":29.5,"t":745,"p":0.3,"l":0.3},{"s":29.5,"t":900,"p":0.3,"l":0.3},{"s":29.5,"t":905,"p":0.8,"l":0.8},{"s":29.5,"t":915,"p":0,"l":0},{"s":29.5,"t":1800,"p":0,"l":0},
{"s":19.5,"t":0,"p":0.2,"l":0.2},{"s":19.5,"t":1800,"p":0,"l":0},
{"s":9.5,"t":0,"p":0,"l":0},{"s":9.5,"t":1800,"p":0,"l":0}
],
"C":[
{"f":"R","t":0,"c":0},{"f":"R","t":10,"c":0},{"f":"R","t":20,"c":2},{"f":"R","t":30,"c":5},{"f":"R","t":40,"c":7},{"f":"R","t":50,"c":9},{"f":"R","t":60,"c":12},{"f":"R","t":70,"c":14},{"f":"R","t":80,"c":17},{"f":"R","t":90,"c":20},{"f":"R","t":100,"c":23},{"f":"R","t":110,"c":27},{"f":"R","t":120,"c":30},{"f":"R","t":130,"c":34},{"f":"R","t":140,"c":37},{"f":"R","t":150,"c":41},{"f":"R","t":160,"c":44},{"f":"R","t":170,"c":48},{"f":"R","t":180,"c":48},
{"f":"R","t":184,"c":0},{"f":"R","t":190,"c":3},{"f":"R","t":200,"c":7},{"f":"R","t":210,"c":10},{"f":"R","t":220,"c":16},{"f":"R","t":230,"c":18},{"f":"R","t":240,"c":18},{"f":"R","t":250,"c":22},{"f":"R","t":260,"c":28},{"f":"R","t":270,"c":32},{"f":"R","t":280,"c":33},{"f":"R","t":290,"c":35},{"f":"R","t":300,"c":41},{"f":"R","t":310,"c":46},{"f":"R","t":320,"c":49},{"f":"R","t":330,"c":53},{"f":"R","t":340,"c":55},{"f":"R","t":350,"c":59},{"f":"R","t":360,"c":60},
{"f":"R","t":364,"c":1},{"f":"R","t":370,"c":4},{"f":"R","t":380,"c":10},{"f":"R","t":390,"c":17},{"f":"R","t":400,"c":24},{"f":"R","t":410,"c":30},{"f":"R","t":420,"c":34},{"f":"R","t":430,"c":37},{"f":"R","t":440,"c":43},{"f":"R","t":450,"c":47},{"f":"R","t":460,"c":51},{"f":"R","t":470,"c":55},{"f":"R","t":480,"c":59},{"f":"R","t":490,"c":61},{"f":"R","t":500,"c":67},{"f":"R","t":510,"c":71},{"f":"R","t":520,"c":75},{"f":"R","t":530,"c":77},{"f":"R","t":540,"c":80},
{"f":"R","t":544,"c":0},{"f":"R","t":550,"c":0},{"f":"R","t":560,"c":8},{"f":"R","t":570,"c":12},{"f":"R","t":580,"c":16},{"f":"R","t":590,"c":21},{"f":"R","t":600,"c":27},{"f":"R","t":610,"c":30},{"f":"R","t":620,"c":35},{"f":"R","t":630,"c":40},{"f":"R","t":640,"c":44},{"f":"R","t":650,"c":48},{"f":"R","t":660,"c":52},{"f":"R","t":670,"c":56},{"f":"R","t":680,"c":64},{"f":"R","t":690,"c":68},{"f":"R","t":700,"c":69},{"f":"R","t":710,"c":71},{"f":"R","t":720,"c":73},
{"f":"R","t":724,"c":0},{"f":"R","t":730,"c":7},{"f":"R","t":740,"c":12},{"f":"R","t":750,"c":15},{"f":"R","t":760,"c":21},{"f":"R","t":770,"c":25},{"f":"R","t":780,"c":29},{"f":"R","t":790,"c":36},{"f":"R","t":800,"c":38},{"f":"R","t":810,"c":42},{"f":"R","t":820,"c":51},{"f":"R","t":830,"c":51},{"f":"R","t":840,"c":56},{"f":"R","t":850,"c":62},{"f":"R","t":860,"c":68},{"f":"R","t":870,"c":70},{"f":"R","t":880,"c":78},{"f":"R","t":890,"c":81},{"f":"R","t":900,"c":87},
{"f":"R","t":904,"c":0},{"f":"R","t":910,"c":6},{"f":"R","t":920,"c":11},{"f":"R","t":930,"c":14},{"f":"R","t":940,"c":16},{"f":"R","t":950,"c":20},{"f":"R","t":960,"c":24},{"f":"R","t":970,"c":28},{"f":"R","t":980,"c":33},{"f":"R","t":990,"c":38},{"f":"R","t":1000,"c":43},{"f":"R","t":1010,"c":45},{"f":"R","t":1020,"c":48},{"f":"R","t":1030,"c":52},{"f":"R","t":1040,"c":56},{"f":"R","t":1050,"c":57},{"f":"R","t":1060,"c":61},{"f":"R","t":1070,"c":68},{"f":"R","t":1080,"c":71},
{"f":"R","t":1084,"c":0},{"f":"R","t":1090,"c":2},{"f":"R","t":1100,"c":8},{"f":"R","t":1110,"c":14},{"f":"R","t":1120,"c":18},{"f":"R","t":1130,"c":22},{"f":"R","t":1140,"c":23},{"f":"R","t":1150,"c":25},{"f":"R","t":1160,"c":35},{"f":"R","t":1170,"c":43},{"f":"R","t":1180,"c":46},{"f":"R","t":1190,"c":50},{"f":"R","t":1200,"c":57},{"f":"R","t":1210,"c":58},{"f":"R","t":1220,"c":60},{"f":"R","t":1230,"c":61},{"f":"R","t":1240,"c":68},{"f":"R","t":1250,"c":74},{"f":"R","t":1260,"c":76},
{"f":"R","t":1264,"c":0},{"f":"R","t":1270,"c":3},{"f":"R","t":1280,"c":8},{"f":"R","t":1290,"c":11},{"f":"R","t":1300,"c":20},{"f":"R","t":1310,"c":24},{"f":"R","t":1320,"c":29},{"f":"R","t":1330,"c":34},{"f":"R","t":1340,"c":37},{"f":"R","t":1350,"c":40},{"f":"R","t":1360,"c":43},{"f":"R","t":1370,"c":47},{"f":"R","t":1380,"c":54},{"f":"R","t":1390,"c":58},{"f":"R","t":1400,"c":61},{"f":"R","t":1410,"c":61},{"f":"R","t":1420,"c":62},{"f":"R","t":1430,"c":64},{"f":"R","t":1440,"c":67},
{"f":"R","t":1444,"c":0},{"f":"R","t":1450,"c":2},{"f":"R","t":1460,"c":7},{"f":"R","t":1470,"c":12},{"f":"R","t":1480,"c":21},{"f":"R","t":1490,"c":23},{"f":"R","t":1500,"c":33},{"f":"R","t":1510,"c":38},{"f":"R","t":1520,"c":41},{"f":"R","t":1530,"c":47},{"f":"R","t":1540,"c":51},{"f":"R","t":1550,"c":58},{"f":"R","t":1560,"c":63},{"f":"R","t":1570,"c":67},{"f":"R","t":1580,"c":70},{"f":"R","t":1590,"c":73},{"f":"R","t":1600,"c":77},{"f":"R","t":1610,"c":87},{"f":"R","t":1620,"c":93},
{"f":"R","t":1624,"c":0},{"f":"R","t":1630,"c":0},{"f":"R","t":1640,"c":3},{"f":"R","t":1650,"c":8},{"f":"R","t":1660,"c":12},{"f":"R","t":1670,"c":19},{"f":"R","t":1680,"c":22},{"f":"R","t":1690,"c":26},{"f":"R","t":1700,"c":32},{"f":"R","t":1710,"c":35},{"f":"R","t":1720,"c":39},{"f":"R","t":1730,"c":45},{"f":"R","t":1740,"c":48},{"f":"R","t":1750,"c":55},{"f":"R","t":1760,"c":63},{"f":"R","t":1770,"c":65},{"f":"R","t":1780,"c":71},{"f":"R","t":1790,"c":71},{"f":"R","t":1800,"c":73},
{"f":"D","t":0,"c":0},{"f":"D","t":50,"c":0},{"f":"D","t":60,"c":2},{"f":"D","t":70,"c":3},{"f":"D","t":80,"c":4},{"f":"D","t":90,"c":6},{"f":"D","t":100,"c":8},{"f":"D","t":110,"c":10},{"f":"D","t":120,"c":11},{"f":"D","t":130,"c":14},{"f":"D","t":140,"c":16},{"f":"D","t":150,"c":17},{"f":"D","t":160,"c":19},{"f":"D","t":170,"c":21},{"f":"D","t":180,"c":22},
{"f":"D","t":184,"c":0},{"f":"D","t":200,"c":0},{"f":"D","t":210,"c":3},{"f":"D","t":220,"c":6},{"f":"D","t":230,"c":7},{"f":"D","t":240,"c":11},{"f":"D","t":250,"c":11},{"f":"D","t":260,"c":16},{"f":"D","t":270,"c":17},{"f":"D","t":280,"c":17},{"f":"D","t":290,"c":19},{"f":"D","t":300,"c":21},{"f":"D","t":310,"c":25},{"f":"D","t":320,"c":28},{"f":"D","t":330,"c":30},{"f":"D","t":340,"c":32},{"f":"D","t":350,"c":33},{"f":"D","t":360,"c":33},
{"f":"D","t":364,"c":0},{"f":"D","t":370,"c":1},{"f":"D","t":380,"c":2},{"f":"D","t":390,"c":6},{"f":"D","t":400,"c":8},{"f":"D","t":410,"c":10},{"f":"D","t":420,"c":11},{"f":"D","t":430,"c":11},{"f":"D","t":440,"c":14},{"f":"D","t":450,"c":18},{"f":"D","t":460,"c":19},{"f":"D","t":470,"c":22},{"f":"D","t":480,"c":25},{"f":"D","t":490,"c":27},{"f":"D","t":500,"c":30},{"f":"D","t":510,"c":33},{"f":"D","t":520,"c":36},{"f":"D","t":530,"c":38},{"f":"D","t":540,"c":42},
{"f":"D","t":544,"c":0},{"f":"D","t":560,"c":0},{"f":"D","t":570,"c":3},{"f":"D","t":580,"c":3},{"f":"D","t":590,"c":5},{"f":"D","t":600,"c":7},{"f":"D","t":610,"c":11},{"f":"D","t":620,"c":18},{"f":"D","t":630,"c":21},{"f":"D","t":640,"c":27},{"f":"D","t":650,"c":31},{"f":"D","t":660,"c":36},{"f":"D","t":670,"c":38},{"f":"D","t":680,"c":40},{"f":"D","t":690,"c":41},{"f":"D","t":700,"c":44},{"f":"D","t":710,"c":46},{"f":"D","t":720,"c":46},
{"f":"D","t":724,"c":0},{"f":"D","t":730,"c":1},{"f":"D","t":740,"c":3},{"f":"D","t":750,"c":8},{"f":"D","t":760,"c":15},{"f":"D","t":770,"c":24},{"f":"D","t":780,"c":29},{"f":"D","t":790,"c":34},{"f":"D","t":800,"c":40},{"f":"D","t":810,"c":42},{"f":"D","t":820,"c":48},{"f":"D","t":830,"c":53},{"f":"D","t":840,"c":53},{"f":"D","t":850,"c":57},{"f":"D","t":860,"c":62},{"f":"D","t":870,"c":66},{"f":"D","t":880,"c":70},{"f":"D","t":890,"c":74},{"f":"D","t":900,"c":75},
{"f":"D","t":904,"c":0},{"f":"D","t":910,"c":3},{"f":"D","t":920,"c":3},{"f":"D","t":930,"c":7},{"f":"D","t":940,"c":9},{"f":"D","t":950,"c":9},{"f":"D","t":960,"c":13},{"f":"D","t":970,"c":17},{"f":"D","t":980,"c":20},{"f":"D","t":990,"c":25},{"f":"D","t":1000,"c":28},{"f":"D","t":1010,"c":33},{"f":"D","t":1020,"c":38},{"f":"D","t":1030,"c":43},{"f":"D","t":1040,"c":47},{"f":"D","t":1050,"c":48},{"f":"D","t":1060,"c":49},{"f":"D","t":1070,"c":50},{"f":"D","t":1080,"c":50},
{"f":"D","t":1084,"c":0},{"f":"D","t":1090,"c":1},{"f":"D","t":1110,"c":1},{"f":"D","t":1120,"c":6},{"f":"D","t":1130,"c":10},{"f":"D","t":1140,"c":13},{"f":"D","t":1150,"c":17},{"f":"D","t":1160,"c":25},{"f":"D","t":1170,"c":32},{"f":"D","t":1180,"c":34},{"f":"D","t":1190,"c":34},{"f":"D","t":1200,"c":35},{"f":"D","t":1210,"c":35},{"f":"D","t":1220,"c":39},{"f":"D","t":1230,"c":42},{"f":"D","t":1240,"c":47},{"f":"D","t":1250,"c":48},{"f":"D","t":1260,"c":50},
{"f":"D","t":1264,"c":0},{"f":"D","t":1270,"c":0},{"f":"D","t":1280,"c":2},{"f":"D","t":1290,"c":5},{"f":"D","t":1300,"c":8},{"f":"D","t":1310,"c":11},{"f":"D","t":1320,"c":15},{"f":"D","t":1330,"c":20},{"f":"D","t":1340,"c":31},{"f":"D","t":1350,"c":31},{"f":"D","t":1360,"c":32},{"f":"D","t":1370,"c":39},{"f":"D","t":1380,"c":43},{"f":"D","t":1390,"c":45},{"f":"D","t":1400,"c":47},{"f":"D","t":1410,"c":48},{"f":"D","t":1420,"c":49},{"f":"D","t":1430,"c":51},{"f":"D","t":1440,"c":53},
{"f":"D","t":1444,"c":0},{"f":"D","t":1450,"c":3},{"f":"D","t":1460,"c":9},{"f":"D","t":1470,"c":16},{"f":"D","t":1480,"c":22},{"f":"D","t":1490,"c":28},{"f":"D","t":1500,"c":32},{"f":"D","t":1510,"c":37},{"f":"D","t":1520,"c":39},{"f":"D","t":1530,"c":43},{"f":"D","t":1540,"c":46},{"f":"D","t":1550,"c":50},{"f":"D","t":1560,"c":56},{"f":"D","t":1570,"c":61},{"f":"D","t":1580,"c":64},{"f":"D","t":1590,"c":65},{"f":"D","t":1600,"c":70},{"f":"D","t":1610,"c":78},{"f":"D","t":1620,"c":83},
{"f":"D","t":1624,"c":0},{"f":"D","t":1630,"c":2},{"f":"D","t":1640,"c":5},{"f":"D","t":1650,"c":5},{"f":"D","t":1660,"c":7},{"f":"D","t":1670,"c":11},{"f":"D","t":1680,"c":14},{"f":"D","t":1690,"c":19},{"f":"D","t":1700,"c":24},{"f":"D","t":1710,"c":25},{"f":"D","t":1720,"c":26},{"f":"D","t":1730,"c":28},{"f":"D","t":1740,"c":33},{"f":"D","t":1750,"c":36},{"f":"D","t":1760,"c":40},{"f":"D","t":1770,"c":45},{"f":"D","t":1780,"c":45},{"f":"D","t":1790,"c":51},{"f":"D","t":1800,"c":55}
]
},
"spacing":47,
"resolve":{"scale":{"color":"independent","fill":"independent","stroke":"independent"},"legend":{"color":"independent"}},
"vconcat":[
{"spacing":19,"resolve":{"scale":{"color":"independent","fill":"independent","stroke":"independent"},"legend":{"color":"independent"}},"vconcat":[
{"title":"ALEXIS ROCHA — Total Strikes Attempted R9 Under Full Fight (Event 16185)","width":1983,"height":468,
"encoding":{"x":{"field":"t","type":"quantitative","scale":{"domain":[-90,1890],"nice":false,"zero":false},"axis":{"values":[0,250,500,750,1000,1250,1500,1750],"labels":false,"title":null,"grid":false,"tickSize":7}}},
"layer":[
{"data":{"name":"R"},"mark":{"type":"rule","color":"#444","strokeWidth":1,"strokeDash":[1.5,2.5],"opacity":0.8},"encoding":{}},
{"data":{"name":"R"},"mark":{"type":"text","align":"left","baseline":"middle","dx":2,"fontSize":15,"color":"#707070"},"encoding":{"y":{"datum":110,"type":"quantitative","scale":{"domain":[0,115.2],"nice":false,"zero":false},"axis":{"title":"Prob","tickCount":40}},"text":{"field":"r"}}},
{"data":{"name":"A"},"mark":{"type":"area","opacity":0.09},"encoding":{"y":{"field":"l","type":"quantitative","title":"Prob","scale":{"domain":[0,115.2],"nice":false,"zero":false}},"y2":{"field":"p"},"fill":{"field":"s","type":"ordinal","scale":{"domain":[79.5,69.5,59.5,49.5,39.5,29.5,19.5,9.5],"range":["#bfef45","#f032e6","#42d4f4","#911eb4","#f58231","#4363d8","#3cb44b","#e6194B"]},"legend":null}}},
{"data":{"name":"A"},"mark":{"type":"line","strokeWidth":1.2,"strokeDash":[2,2],"opacity":0.55},"encoding":{"y":{"field":"l","type":"quantitative","title":"Prob","scale":{"domain":[0,115.2],"nice":false,"zero":false}},"stroke":{"field":"s","type":"ordinal","scale":{"domain":[79.5,69.5,59.5,49.5,39.5,29.5,19.5,9.5],"range":["#bfef45","#f032e6","#42d4f4","#911eb4","#f58231","#4363d8","#3cb44b","#e6194B"]},"legend":null}}},
{"data":{"name":"A"},"mark":{"type":"line","strokeWidth":2,"opacity":0.85},"encoding":{"y":{"field":"p","type":"quantitative","title":"Prob","scale":{"domain":[0,115.2],"nice":false,"zero":false},"axis":{"values":[0,5,10,15,20,25,30,35,40,45,50,55,60,65,70,75,80,85,90,95,100,105,110,115],"tickCount":40,"labelExpr":"format(datum.value/100,'.2f')","labelOverlap":false,"labelBound":false,"title":"Prob","grid":true,"tickSize":7,"labelPadding":8,"labelFontSize":13,"titleFontSize":15,"titlePadding":16,"minExtent":44,"maxExtent":44}},"color":{"field":"s","type":"ordinal","scale":{"domain":[9.5,19.5,29.5,39.5,49.5,59.5,69.5,79.5],"range":["#e6194B","#3cb44b","#4363d8","#f58231","#911eb4","#42d4f4","#f032e6","#bfef45"]},"legend":{"title":null,"orient":"top-right","offset":8,"columns":4,"labelExpr":"'under ' + datum.label","symbolType":"stroke","symbolSize":324,"symbolStrokeWidth":2.5,"labelFontSize":12,"labelOffset":6,"columnPadding":32,"rowPadding":1,"padding":6,"strokeColor":"#cccccc","fillColor":"rgba(255,255,255,0.8)","cornerRadius":3,"labelColor":"#111"}}}}
]},
{"title":"JOSEPH DIAZ — Total Strikes Attempted R9 Under Full Fight (Event 16185)","width":1983,"height":468,
"encoding":{"x":{"field":"t","type":"quantitative","scale":{"domain":[-90,1890],"nice":false,"zero":false},"axis":{"values":[0,250,500,750,1000,1250,1500,1750],"labels":false,"title":null,"grid":false,"tickSize":7}}},
"layer":[
{"data":{"name":"R"},"mark":{"type":"rule","color":"#444","strokeWidth":1,"strokeDash":[1.5,2.5],"opacity":0.8},"encoding":{}},
{"data":{"name":"R"},"mark":{"type":"text","align":"left","baseline":"middle","dx":2,"fontSize":15,"color":"#707070"},"encoding":{"y":{"datum":110,"type":"quantitative","scale":{"domain":[0,115.2],"nice":false,"zero":false},"axis":{"title":"Prob","tickCount":40}},"text":{"field":"r"}}},
{"data":{"name":"B"},"mark":{"type":"area","opacity":0.09},"encoding":{"y":{"field":"l","type":"quantitative","title":"Prob","scale":{"domain":[0,115.2],"nice":false,"zero":false}},"y2":{"field":"p"},"fill":{"field":"s","type":"ordinal","scale":{"domain":[79.5,69.5,59.5,49.5,39.5,29.5,19.5,9.5],"range":["#bfef45","#f032e6","#42d4f4","#911eb4","#f58231","#4363d8","#3cb44b","#e6194B"]},"legend":null}}},
{"data":{"name":"B"},"mark":{"type":"line","strokeWidth":1.2,"strokeDash":[2,2],"opacity":0.55},"encoding":{"y":{"field":"l","type":"quantitative","title":"Prob","scale":{"domain":[0,115.2],"nice":false,"zero":false}},"stroke":{"field":"s","type":"ordinal","scale":{"domain":[79.5,69.5,59.5,49.5,39.5,29.5,19.5,9.5],"range":["#bfef45","#f032e6","#42d4f4","#911eb4","#f58231","#4363d8","#3cb44b","#e6194B"]},"legend":null}}},
{"data":{"name":"B"},"mark":{"type":"line","strokeWidth":2,"opacity":0.85},"encoding":{"y":{"field":"p","type":"quantitative","title":"Prob","scale":{"domain":[0,115.2],"nice":false,"zero":false},"axis":{"values":[0,5,10,15,20,25,30,35,40,45,50,55,60,65,70,75,80,85,90,95,100,105,110,115],"tickCount":40,"labelExpr":"format(datum.value/100,'.2f')","labelOverlap":false,"labelBound":false,"title":"Prob","grid":true,"tickSize":7,"labelPadding":8,"labelFontSize":13,"titleFontSize":15,"titlePadding":16,"minExtent":44,"maxExtent":44}},"color":{"field":"s","type":"ordinal","scale":{"domain":[9.5,19.5,29.5,39.5,49.5,59.5,69.5,79.5],"range":["#e6194B","#3cb44b","#4363d8","#f58231","#911eb4","#42d4f4","#f032e6","#bfef45"]},"legend":{"title":null,"orient":"top-right","offset":8,"columns":4,"labelExpr":"'under ' + datum.label","symbolType":"stroke","symbolSize":324,"symbolStrokeWidth":2.5,"labelFontSize":12,"labelOffset":6,"columnPadding":32,"rowPadding":1,"padding":6,"strokeColor":"#cccccc","fillColor":"rgba(255,255,255,0.8)","cornerRadius":3,"labelColor":"#111"}}}}
]}
]},
{"width":1983,"height":312,
"encoding":{"x":{"field":"t","type":"quantitative","scale":{"domain":[-90,1890],"nice":false,"zero":false},"axis":{"values":[0,250,500,750,1000,1250,1500,1750],"format":"d","title":"Fight time (seconds)","titleFontSize":21,"titlePadding":6,"labelFontSize":14,"labelPadding":9,"tickSize":7,"grid":false}}},
"layer":[
{"data":{"name":"R"},"mark":{"type":"rule","color":"#444","strokeWidth":1,"strokeDash":[1.5,2.5],"opacity":0.8},"encoding":{}},
{"data":{"name":"R"},"mark":{"type":"text","align":"left","baseline":"middle","dx":2,"fontSize":15,"color":"#707070"},"encoding":{"y":{"datum":92,"type":"quantitative","scale":{"domain":[-4.65,97.65],"nice":false,"zero":false},"axis":{"title":"Count","tickCount":40}},"text":{"field":"r"}}},
{"data":{"name":"C"},"mark":{"type":"line","strokeWidth":2.5,"opacity":0.75},"encoding":{"y":{"field":"c","type":"quantitative","title":"Count","scale":{"domain":[-4.65,97.65],"nice":false,"zero":false},"axis":{"values":[0,5,10,15,20,25,30,35,40,45,50,55,60,65,70,75,80,85,90,95],"tickCount":40,"labelExpr":"datum.value % 20 === 0 ? datum.label : ''","tickOpacity":{"condition":{"test":"datum.value % 20 === 0","value":1},"value":0},"title":"Count","grid":true,"tickSize":7,"labelPadding":8,"labelFontSize":14,"titleFontSize":15,"titlePadding":16,"minExtent":44,"maxExtent":44}},"color":{"field":"f","type":"nominal","scale":{"domain":["R","D"],"range":["#ff0000","#0000ff"]},"legend":{"title":null,"orient":"top-left","offset":7,"labelExpr":"datum.label == 'R' ? 'Truth ALEXIS ROCHA: 93' : 'Truth JOSEPH DIAZ: 83'","labelLimit":400,"symbolType":"stroke","symbolSize":420,"symbolStrokeWidth":2.5,"labelFontSize":15,"labelOffset":8,"rowPadding":0,"padding":6,"strokeColor":"#cccccc","fillColor":"rgba(255,255,255,0.8)","cornerRadius":3,"labelColor":"#111"}}}}
]}
]
}
